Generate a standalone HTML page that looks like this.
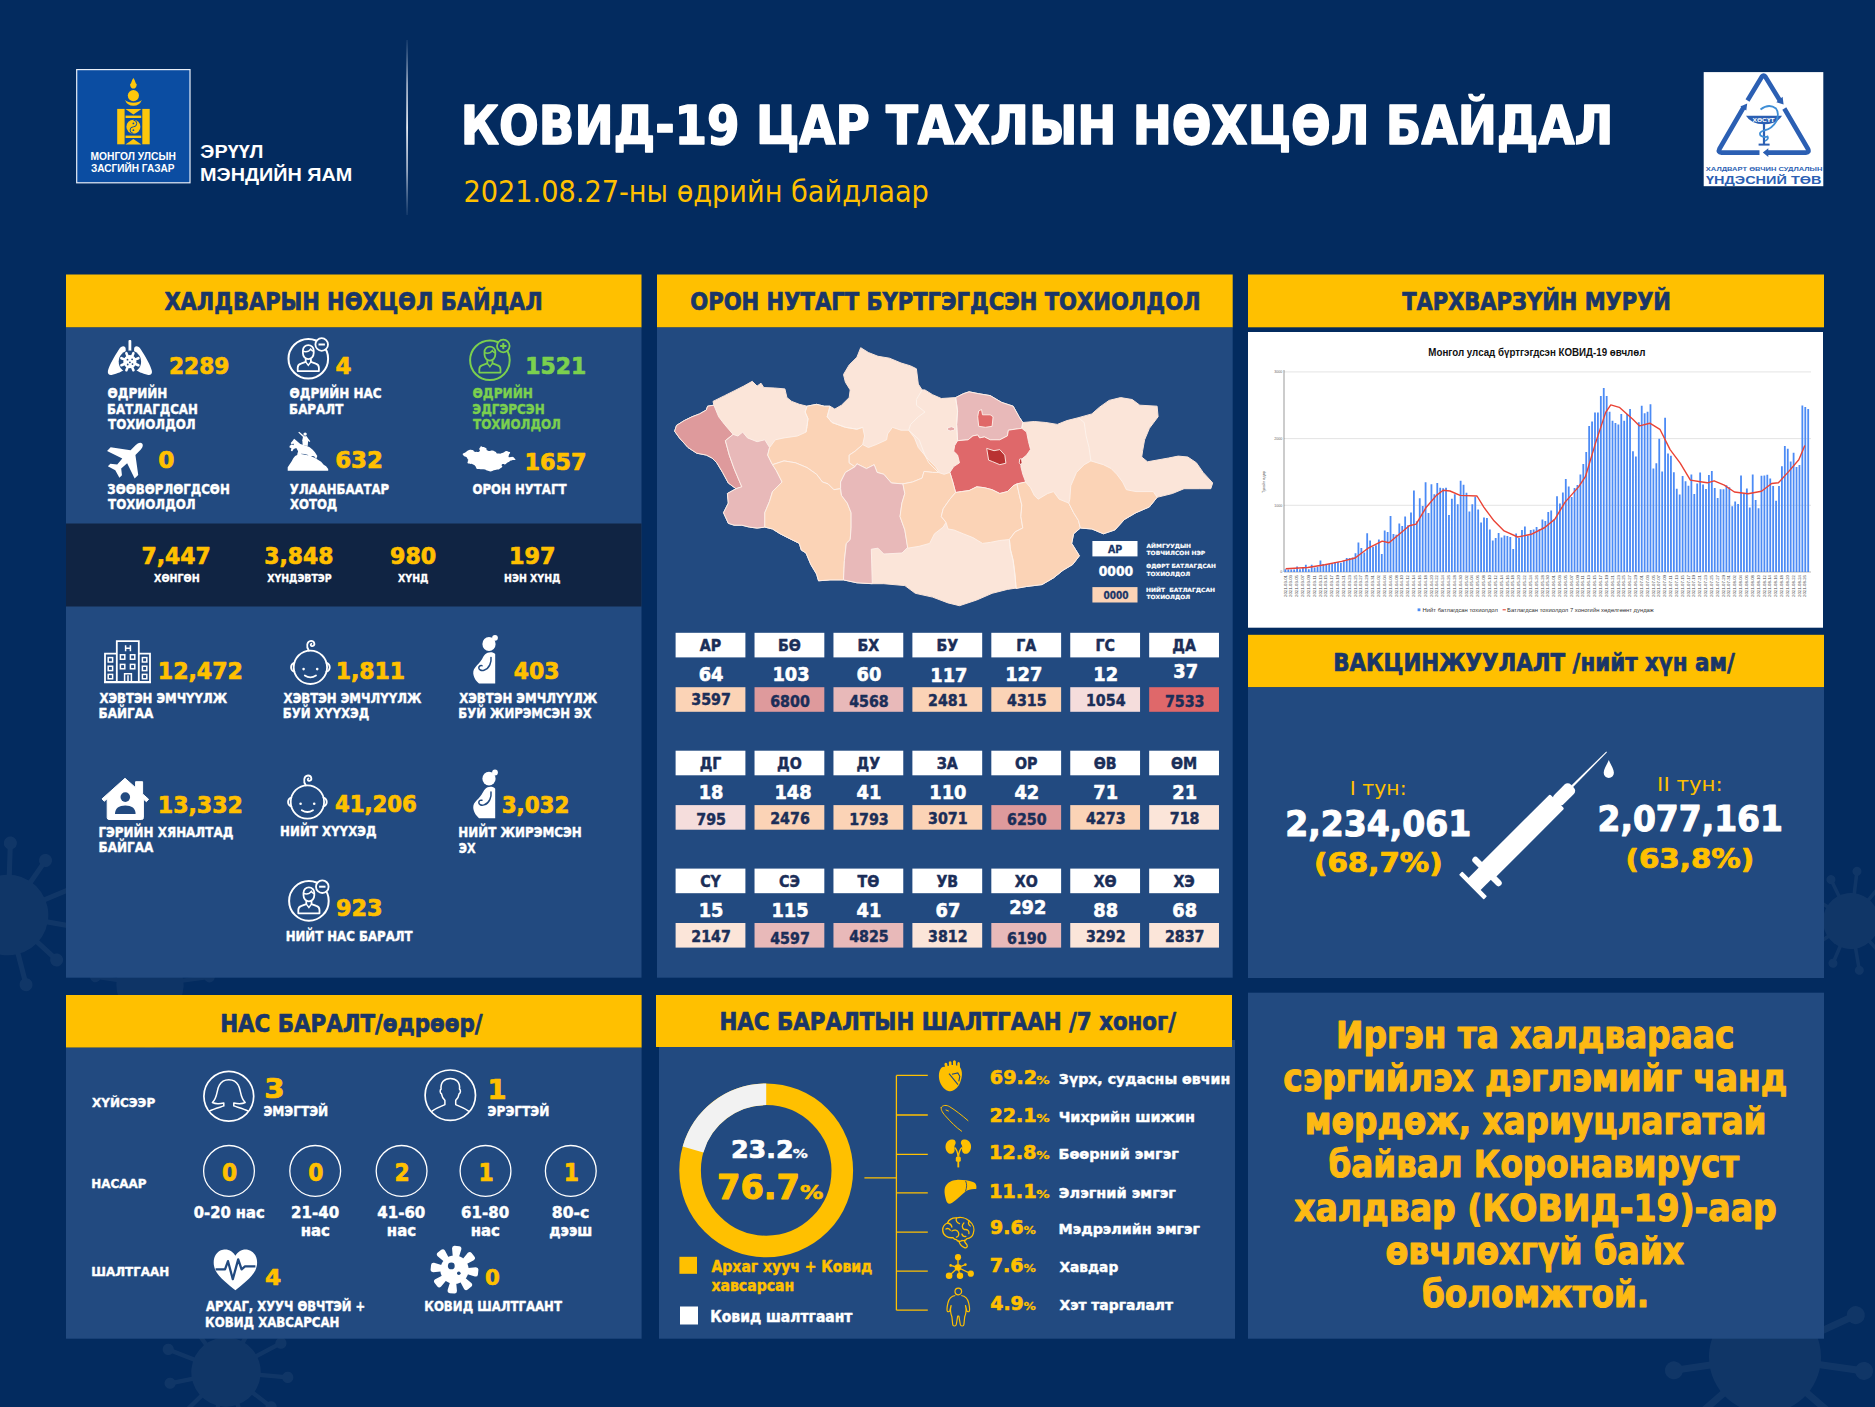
<!DOCTYPE html>
<html lang="mn"><head><meta charset="utf-8"><title>КОВИД-19 цар тахлын нөхцөл байдал</title>
<style>html,body{margin:0;padding:0;background:#032B5F;overflow:hidden}svg{display:block}text{white-space:pre}</style>
</head><body>
<svg width="1875" height="1407" viewBox="0 0 1875 1407">
<rect x="0" y="0" width="1875" height="1407" fill="#032B5F" />
<g>
<g transform="translate(8 915) rotate(10)" fill="#fff" stroke="#fff" opacity="0.05">
<circle cx="0" cy="0" r="40.3" stroke="none"/>
<line x1="0" y1="0" x2="72.0" y2="0.0" stroke-width="5.0"/>
<circle cx="72.0" cy="0.0" r="6.5" stroke="none"/>
<line x1="0" y1="0" x2="55.7" y2="35.8" stroke-width="5.0"/>
<circle cx="55.7" cy="35.8" r="6.5" stroke="none"/>
<line x1="0" y1="0" x2="29.9" y2="65.5" stroke-width="5.0"/>
<circle cx="29.9" cy="65.5" r="6.5" stroke="none"/>
<line x1="0" y1="0" x2="-9.4" y2="65.6" stroke-width="5.0"/>
<circle cx="-9.4" cy="65.6" r="6.5" stroke="none"/>
<line x1="0" y1="0" x2="-47.1" y2="54.4" stroke-width="5.0"/>
<circle cx="-47.1" cy="54.4" r="6.5" stroke="none"/>
<line x1="0" y1="0" x2="-63.6" y2="18.7" stroke-width="5.0"/>
<circle cx="-63.6" cy="18.7" r="6.5" stroke="none"/>
<line x1="0" y1="0" x2="-69.1" y2="-20.3" stroke-width="5.0"/>
<circle cx="-69.1" cy="-20.3" r="6.5" stroke="none"/>
<line x1="0" y1="0" x2="-43.4" y2="-50.1" stroke-width="5.0"/>
<circle cx="-43.4" cy="-50.1" r="6.5" stroke="none"/>
<line x1="0" y1="0" x2="-10.2" y2="-71.3" stroke-width="5.0"/>
<circle cx="-10.2" cy="-71.3" r="6.5" stroke="none"/>
<line x1="0" y1="0" x2="27.5" y2="-60.3" stroke-width="5.0"/>
<circle cx="27.5" cy="-60.3" r="6.5" stroke="none"/>
<line x1="0" y1="0" x2="60.6" y2="-38.9" stroke-width="5.0"/>
<circle cx="60.6" cy="-38.9" r="6.5" stroke="none"/>
</g>
<g transform="translate(150 985) rotate(25)" fill="#fff" stroke="#fff" opacity="0.045">
<circle cx="0" cy="0" r="33.6" stroke="none"/>
<line x1="0" y1="0" x2="60.0" y2="0.0" stroke-width="4.2"/>
<circle cx="60.0" cy="0.0" r="5.4" stroke="none"/>
<line x1="0" y1="0" x2="46.4" y2="29.8" stroke-width="4.2"/>
<circle cx="46.4" cy="29.8" r="5.4" stroke="none"/>
<line x1="0" y1="0" x2="24.9" y2="54.6" stroke-width="4.2"/>
<circle cx="24.9" cy="54.6" r="5.4" stroke="none"/>
<line x1="0" y1="0" x2="-7.9" y2="54.6" stroke-width="4.2"/>
<circle cx="-7.9" cy="54.6" r="5.4" stroke="none"/>
<line x1="0" y1="0" x2="-39.3" y2="45.3" stroke-width="4.2"/>
<circle cx="-39.3" cy="45.3" r="5.4" stroke="none"/>
<line x1="0" y1="0" x2="-53.0" y2="15.6" stroke-width="4.2"/>
<circle cx="-53.0" cy="15.6" r="5.4" stroke="none"/>
<line x1="0" y1="0" x2="-57.6" y2="-16.9" stroke-width="4.2"/>
<circle cx="-57.6" cy="-16.9" r="5.4" stroke="none"/>
<line x1="0" y1="0" x2="-36.1" y2="-41.7" stroke-width="4.2"/>
<circle cx="-36.1" cy="-41.7" r="5.4" stroke="none"/>
<line x1="0" y1="0" x2="-8.5" y2="-59.4" stroke-width="4.2"/>
<circle cx="-8.5" cy="-59.4" r="5.4" stroke="none"/>
<line x1="0" y1="0" x2="22.9" y2="-50.2" stroke-width="4.2"/>
<circle cx="22.9" cy="-50.2" r="5.4" stroke="none"/>
<line x1="0" y1="0" x2="50.5" y2="-32.4" stroke-width="4.2"/>
<circle cx="50.5" cy="-32.4" r="5.4" stroke="none"/>
</g>
<g transform="translate(226 1372) rotate(5)" fill="#fff" stroke="#fff" opacity="0.05">
<circle cx="0" cy="0" r="34.7" stroke="none"/>
<line x1="0" y1="0" x2="62.0" y2="0.0" stroke-width="4.3"/>
<circle cx="62.0" cy="0.0" r="5.6" stroke="none"/>
<line x1="0" y1="0" x2="48.0" y2="30.8" stroke-width="4.3"/>
<circle cx="48.0" cy="30.8" r="5.6" stroke="none"/>
<line x1="0" y1="0" x2="25.8" y2="56.4" stroke-width="4.3"/>
<circle cx="25.8" cy="56.4" r="5.6" stroke="none"/>
<line x1="0" y1="0" x2="-8.1" y2="56.5" stroke-width="4.3"/>
<circle cx="-8.1" cy="56.5" r="5.6" stroke="none"/>
<line x1="0" y1="0" x2="-40.6" y2="46.9" stroke-width="4.3"/>
<circle cx="-40.6" cy="46.9" r="5.6" stroke="none"/>
<line x1="0" y1="0" x2="-54.7" y2="16.1" stroke-width="4.3"/>
<circle cx="-54.7" cy="16.1" r="5.6" stroke="none"/>
<line x1="0" y1="0" x2="-59.5" y2="-17.5" stroke-width="4.3"/>
<circle cx="-59.5" cy="-17.5" r="5.6" stroke="none"/>
<line x1="0" y1="0" x2="-37.4" y2="-43.1" stroke-width="4.3"/>
<circle cx="-37.4" cy="-43.1" r="5.6" stroke="none"/>
<line x1="0" y1="0" x2="-8.8" y2="-61.4" stroke-width="4.3"/>
<circle cx="-8.8" cy="-61.4" r="5.6" stroke="none"/>
<line x1="0" y1="0" x2="23.7" y2="-51.9" stroke-width="4.3"/>
<circle cx="23.7" cy="-51.9" r="5.6" stroke="none"/>
<line x1="0" y1="0" x2="52.2" y2="-33.5" stroke-width="4.3"/>
<circle cx="52.2" cy="-33.5" r="5.6" stroke="none"/>
</g>
<g transform="translate(1851 921) rotate(15)" fill="#fff" stroke="#fff" opacity="0.05">
<circle cx="0" cy="0" r="28.0" stroke="none"/>
<line x1="0" y1="0" x2="50.0" y2="0.0" stroke-width="3.5"/>
<circle cx="50.0" cy="0.0" r="4.5" stroke="none"/>
<line x1="0" y1="0" x2="38.7" y2="24.9" stroke-width="3.5"/>
<circle cx="38.7" cy="24.9" r="4.5" stroke="none"/>
<line x1="0" y1="0" x2="20.8" y2="45.5" stroke-width="3.5"/>
<circle cx="20.8" cy="45.5" r="4.5" stroke="none"/>
<line x1="0" y1="0" x2="-6.5" y2="45.5" stroke-width="3.5"/>
<circle cx="-6.5" cy="45.5" r="4.5" stroke="none"/>
<line x1="0" y1="0" x2="-32.7" y2="37.8" stroke-width="3.5"/>
<circle cx="-32.7" cy="37.8" r="4.5" stroke="none"/>
<line x1="0" y1="0" x2="-44.1" y2="13.0" stroke-width="3.5"/>
<circle cx="-44.1" cy="13.0" r="4.5" stroke="none"/>
<line x1="0" y1="0" x2="-48.0" y2="-14.1" stroke-width="3.5"/>
<circle cx="-48.0" cy="-14.1" r="4.5" stroke="none"/>
<line x1="0" y1="0" x2="-30.1" y2="-34.8" stroke-width="3.5"/>
<circle cx="-30.1" cy="-34.8" r="4.5" stroke="none"/>
<line x1="0" y1="0" x2="-7.1" y2="-49.5" stroke-width="3.5"/>
<circle cx="-7.1" cy="-49.5" r="4.5" stroke="none"/>
<line x1="0" y1="0" x2="19.1" y2="-41.8" stroke-width="3.5"/>
<circle cx="19.1" cy="-41.8" r="4.5" stroke="none"/>
<line x1="0" y1="0" x2="42.1" y2="-27.0" stroke-width="3.5"/>
<circle cx="42.1" cy="-27.0" r="4.5" stroke="none"/>
</g>
<g transform="translate(1765 1357) rotate(8)" fill="#fff" stroke="#fff" opacity="0.05">
<circle cx="0" cy="0" r="56.0" stroke="none"/>
<line x1="0" y1="0" x2="100.0" y2="0.0" stroke-width="7.0"/>
<circle cx="100.0" cy="0.0" r="9.0" stroke="none"/>
<line x1="0" y1="0" x2="77.4" y2="49.7" stroke-width="7.0"/>
<circle cx="77.4" cy="49.7" r="9.0" stroke="none"/>
<line x1="0" y1="0" x2="41.5" y2="91.0" stroke-width="7.0"/>
<circle cx="41.5" cy="91.0" r="9.0" stroke="none"/>
<line x1="0" y1="0" x2="-13.1" y2="91.1" stroke-width="7.0"/>
<circle cx="-13.1" cy="91.1" r="9.0" stroke="none"/>
<line x1="0" y1="0" x2="-65.5" y2="75.6" stroke-width="7.0"/>
<circle cx="-65.5" cy="75.6" r="9.0" stroke="none"/>
<line x1="0" y1="0" x2="-88.3" y2="25.9" stroke-width="7.0"/>
<circle cx="-88.3" cy="25.9" r="9.0" stroke="none"/>
<line x1="0" y1="0" x2="-95.9" y2="-28.2" stroke-width="7.0"/>
<circle cx="-95.9" cy="-28.2" r="9.0" stroke="none"/>
<line x1="0" y1="0" x2="-60.2" y2="-69.5" stroke-width="7.0"/>
<circle cx="-60.2" cy="-69.5" r="9.0" stroke="none"/>
<line x1="0" y1="0" x2="-14.2" y2="-99.0" stroke-width="7.0"/>
<circle cx="-14.2" cy="-99.0" r="9.0" stroke="none"/>
<line x1="0" y1="0" x2="38.2" y2="-83.7" stroke-width="7.0"/>
<circle cx="38.2" cy="-83.7" r="9.0" stroke="none"/>
<line x1="0" y1="0" x2="84.1" y2="-54.1" stroke-width="7.0"/>
<circle cx="84.1" cy="-54.1" r="9.0" stroke="none"/>
</g>
</g>
<rect x="66" y="274.5" width="575.5" height="53" fill="#FFC000" />
<rect x="66" y="327.5" width="575.5" height="650.2" fill="#224A80" />
<rect x="657" y="274.5" width="575.7" height="53" fill="#FFC000" />
<rect x="657" y="327.5" width="575.7" height="650.2" fill="#224A80" />
<rect x="1248" y="274.5" width="576" height="52.8" fill="#FFC000" />
<rect x="1248" y="332" width="575" height="295.7" fill="#fff" />
<rect x="1248" y="634.8" width="576" height="52.5" fill="#FFC000" />
<rect x="1248" y="687.3" width="576" height="290.7" fill="#224A80" />
<rect x="66" y="995" width="575.6" height="52.7" fill="#FFC000" />
<rect x="66" y="1047.7" width="575.6" height="291" fill="#224A80" />
<rect x="659" y="1040" width="576" height="298.7" fill="#224A80" />
<rect x="656" y="995" width="576" height="52" fill="#FFC000" />
<rect x="1248" y="992.7" width="576" height="346" fill="#224A80" />
<rect x="76.7" y="69.6" width="113.3" height="113.2" fill="#0B4DA2" stroke="#e8eef8" stroke-width="1.2"/>
<g fill="#FDC70C">
<path d="M133.4 78 C135.6 81 135.0 83 136.8 84.5 C136.4 87.5 134.9 88.6 133.4 88.6 C131.9 88.6 130.4 87.5 130.0 84.5 C131.8 83 131.20000000000002 81 133.4 78Z"/>
<circle cx="133.4" cy="95.6" r="5.6"/>
<path d="M125.0 100 A9 9 0 0 0 141.8 100 A10.5 7 0 0 1 125.0 100Z"/>
<path d="M125.4 109 L141.4 109 L133.4 114.4Z"/>
<rect x="125.6" y="115.6" width="15.6" height="2.4" fill="#FDC70C" />
<circle cx="133.4" cy="126.8" r="7"/>
<rect x="125.6" y="135.6" width="15.6" height="2.4" fill="#FDC70C" />
<path d="M125.4 144.4 L141.4 144.4 L133.4 139Z"/>
<rect x="117.2" y="108.9" width="7.4" height="35.4" fill="#FDC70C" />
<rect x="142.3" y="108.9" width="7.4" height="35.4" fill="#FDC70C" />
</g>
<path d="M133.4 120.2 A3.3 3.3 0 0 1 133.4 126.8 A3.3 3.3 0 0 0 133.4 133.4" fill="none" stroke="#0B4DA2" stroke-width="1"/>
<circle cx="133.4" cy="123.4" r="0.9" fill="#0B4DA2"/><circle cx="133.4" cy="130.2" r="0.9" fill="#0B4DA2"/>
<text x="90.51" y="160" font-size="10.7" fill="#fff" font-family="Liberation Sans, sans-serif" font-weight="bold" textLength="85.38" lengthAdjust="spacingAndGlyphs" >МОНГОЛ УЛСЫН</text>
<text x="90.97" y="172" font-size="10.7" fill="#fff" font-family="Liberation Sans, sans-serif" font-weight="bold" textLength="83.57" lengthAdjust="spacingAndGlyphs" >ЗАСГИЙН ГАЗАР</text>
<text x="200.38" y="157.8" font-size="18.3" fill="#fff" font-family="Liberation Sans, sans-serif" font-weight="bold" textLength="63.14" lengthAdjust="spacingAndGlyphs" >ЭРҮҮЛ</text>
<text x="200.08" y="181.4" font-size="18.3" fill="#fff" font-family="Liberation Sans, sans-serif" font-weight="bold" textLength="152.25" lengthAdjust="spacingAndGlyphs" >МЭНДИЙН ЯАМ</text>
<defs><linearGradient id="dv" x1="0" y1="0" x2="0" y2="1"><stop offset="0" stop-color="#9fb0ca" stop-opacity="0.1"/><stop offset="0.25" stop-color="#c9d2e2" stop-opacity="0.75"/><stop offset="0.5" stop-color="#e4e9f2" stop-opacity="1"/><stop offset="0.75" stop-color="#c9d2e2" stop-opacity="0.75"/><stop offset="1" stop-color="#9fb0ca" stop-opacity="0.1"/></linearGradient></defs>
<rect x="406.2" y="40" width="1.8" height="175" fill="url(#dv)"/>
<text x="460.86" y="144" font-size="53.6" fill="#fff" font-family="DejaVu Sans Condensed, DejaVu Sans, sans-serif" font-weight="bold" textLength="1152.55" lengthAdjust="spacingAndGlyphs"  stroke="#fff" stroke-width="1.50" stroke-linejoin="round">КОВИД-19 ЦАР ТАХЛЫН НӨХЦӨЛ БАЙДАЛ</text>
<text x="463.41" y="201.6" font-size="30.8" fill="#FFC000" font-family="DejaVu Sans Condensed, DejaVu Sans, sans-serif" textLength="465.47" lengthAdjust="spacingAndGlyphs" >2021.08.27-ны өдрийн байдлаар</text>
<rect x="1703.7" y="72.1" width="119.6" height="114.1" fill="#fff" />
<g fill="none" stroke="#2B5FB3" stroke-width="4.6" stroke-linecap="butt" stroke-linejoin="round">
<path d="M1747.5 100.5 L1762 76.5 Q1763.6 74.4 1765.2 76.5 L1780.5 101.5"/>
<path d="M1784.3 108.5 L1808 149 Q1809.6 152.6 1806 152.6 L1767 152.6"/>
<path d="M1759.5 152.6 L1721.5 152.6 Q1717.6 152.6 1719.4 149 L1743.8 107"/>
</g>
<path d="M1776.3 102.2 L1783.6 104.4 L1782.6 96.8Z M1747.2 103.6 L1740.3 106.4 L1746.3 110.4Z M1762.8 152.6 L1768.3 148.2 L1768.3 157Z" fill="#2B5FB3"/>
<path d="M1746 115.7 L1782 115.7 Q1777 124.2 1764 124.2 Q1751 124.2 1746 115.7Z" fill="#2B5FB3"/>
<rect x="1762.9" y="124" width="2.2" height="20" fill="#2B5FB3"/><rect x="1758.6" y="143.6" width="11" height="2" fill="#2B5FB3"/>
<path d="M1760.5 109.5 Q1769 103 1776 108.5 Q1779.5 113 1776.5 121 Q1772 129 1764 130.5 Q1758.5 132 1760.5 135.5 Q1764 138 1767.5 136.5 Q1769 139 1765 141" fill="none" stroke="#3E8ED6" stroke-width="1.8"/>
<text x="1752.54" y="122" font-size="5.2" fill="#fff" font-family="Liberation Sans, sans-serif" font-weight="bold" textLength="22.13" lengthAdjust="spacingAndGlyphs" >ХӨСҮТ</text>
<text x="1705.83" y="171.2" font-size="6.1" fill="#2B5FB3" font-family="Liberation Sans, sans-serif" font-weight="bold" textLength="116.57" lengthAdjust="spacingAndGlyphs" >ХАЛДВАРТ ӨВЧИН СУДЛАЛЫН</text>
<text x="1706.00" y="183.9" font-size="11.8" fill="#2B5FB3" font-family="Liberation Sans, sans-serif" font-weight="bold" textLength="115.46" lengthAdjust="spacingAndGlyphs" >ҮНДЭСНИЙ ТӨВ</text>
<text x="164.45" y="310.4" font-size="24.6" fill="#1A3668" font-family="DejaVu Sans Condensed, DejaVu Sans, sans-serif" font-weight="bold" textLength="378.32" lengthAdjust="spacingAndGlyphs"  stroke="#1A3668" stroke-width="0.69" stroke-linejoin="round">ХАЛДВАРЫН НӨХЦӨЛ БАЙДАЛ</text>
<g transform="translate(129.9 340)" >
<rect x="-1.4" y="0" width="2.8" height="13" rx="1" fill="#fff"/>
<path d="M-4.2 9 C-4.2 5.5 -8.5 5.2 -11 9.5 C-15.5 16.5 -21 26 -22 31 C-22.6 34.6 -20 35.6 -17.5 34.8 C-13 33.6 -7 31.5 -4.8 29 C-3.6 27.6 -4.2 24 -4.2 20 Z" fill="#fff"/>
<path d="M4.2 9 C4.2 5.5 8.5 5.2 11 9.5 C15.5 16.5 21 26 22 31 C22.6 34.6 20 35.6 17.5 34.8 C13 33.6 7 31.5 4.8 29 C3.6 27.6 4.2 24 4.2 20 Z" fill="#fff"/>
<circle cx="0" cy="21.7" r="11.2" fill="#224A80"/>
<line x1="5.54" y1="24.00" x2="8.50" y2="25.22" stroke="#fff" stroke-width="2.6" stroke-linecap="round"/>
<line x1="2.30" y1="27.24" x2="3.52" y2="30.20" stroke="#fff" stroke-width="2.6" stroke-linecap="round"/>
<line x1="-2.30" y1="27.24" x2="-3.52" y2="30.20" stroke="#fff" stroke-width="2.6" stroke-linecap="round"/>
<line x1="-5.54" y1="24.00" x2="-8.50" y2="25.22" stroke="#fff" stroke-width="2.6" stroke-linecap="round"/>
<line x1="-5.54" y1="19.40" x2="-8.50" y2="18.18" stroke="#fff" stroke-width="2.6" stroke-linecap="round"/>
<line x1="-2.30" y1="16.16" x2="-3.52" y2="13.20" stroke="#fff" stroke-width="2.6" stroke-linecap="round"/>
<line x1="2.30" y1="16.16" x2="3.52" y2="13.20" stroke="#fff" stroke-width="2.6" stroke-linecap="round"/>
<line x1="5.54" y1="19.40" x2="8.50" y2="18.18" stroke="#fff" stroke-width="2.6" stroke-linecap="round"/>
<circle cx="0" cy="21.7" r="6.6" fill="#fff"/>
<circle cx="-2.4" cy="19.7" r="0.9" fill="#224A80"/>
<circle cx="2.2" cy="19.3" r="0.9" fill="#224A80"/>
<circle cx="0" cy="22.3" r="0.9" fill="#224A80"/>
<circle cx="-2.2" cy="24.5" r="0.9" fill="#224A80"/>
<circle cx="2.6" cy="24.099999999999998" r="0.9" fill="#224A80"/>
</g>
<text x="169.02" y="373.9" font-size="23.3" fill="#FFC000" font-family="DejaVu Sans Condensed, DejaVu Sans, sans-serif" font-weight="bold" textLength="60.33" lengthAdjust="spacingAndGlyphs"  stroke="#FFC000" stroke-width="0.65" stroke-linejoin="round">2289</text>
<text x="107.51" y="398.3" font-size="14.7" fill="#fff" font-family="DejaVu Sans Condensed, DejaVu Sans, sans-serif" font-weight="bold" textLength="59.88" lengthAdjust="spacingAndGlyphs"  stroke="#fff" stroke-width="0.41" stroke-linejoin="round">ӨДРИЙН</text>
<text x="107.02" y="413.5" font-size="14.7" fill="#fff" font-family="DejaVu Sans Condensed, DejaVu Sans, sans-serif" font-weight="bold" textLength="90.85" lengthAdjust="spacingAndGlyphs"  stroke="#fff" stroke-width="0.41" stroke-linejoin="round">БАТЛАГДСАН</text>
<text x="108.05" y="429.2" font-size="14.7" fill="#fff" font-family="DejaVu Sans Condensed, DejaVu Sans, sans-serif" font-weight="bold" textLength="87.63" lengthAdjust="spacingAndGlyphs"  stroke="#fff" stroke-width="0.41" stroke-linejoin="round">ТОХИОЛДОЛ</text>
<g transform="translate(308.3 358.7)" fill="none" stroke="#fff" stroke-width="2">
<circle cx="0" cy="0" r="19.8"/>
<path d="M-5.4 -5.6 L-5.4 -8.2 A5.4 5.4 0 0 1 5.4 -8.2 L5.4 -5.6 A5.4 6 0 0 1 -5.4 -5.6Z" stroke-width="1.8"/>
<path d="M-5.4 -7.4 Q0 -6 2.4 -9.6 Q3.6 -7.8 5.4 -7.4" stroke-width="1.5"/>
<path d="M-2.6 0 L-2.6 3.2 L-7.4 5 Q-10.6 6 -10.6 9 L-10.6 12.4 L10.6 12.4 L10.6 9 Q10.6 6 7.4 5 L2.6 3.2 L2.6 0" stroke-width="1.8" stroke-linejoin="round"/>
<path d="M-2.6 3.2 L0 6.6 L2.6 3.2" stroke-width="1.4"/>
<circle cx="13.4" cy="-14.2" r="6.3" fill="#224A80" stroke-width="1.8"/>
<line x1="10.2" y1="-14.2" x2="16.6" y2="-14.2" stroke-width="2"/>
</g>
<text x="335.60" y="373.9" font-size="23.3" fill="#FFC000" font-family="DejaVu Sans Condensed, DejaVu Sans, sans-serif" font-weight="bold" textLength="16.02" lengthAdjust="spacingAndGlyphs"  stroke="#FFC000" stroke-width="0.65" stroke-linejoin="round">4</text>
<text x="289.61" y="398.3" font-size="14.7" fill="#fff" font-family="DejaVu Sans Condensed, DejaVu Sans, sans-serif" font-weight="bold" textLength="92.04" lengthAdjust="spacingAndGlyphs"  stroke="#fff" stroke-width="0.41" stroke-linejoin="round">ӨДРИЙН НАС</text>
<text x="289.12" y="413.5" font-size="14.7" fill="#fff" font-family="DejaVu Sans Condensed, DejaVu Sans, sans-serif" font-weight="bold" textLength="54.14" lengthAdjust="spacingAndGlyphs"  stroke="#fff" stroke-width="0.41" stroke-linejoin="round">БАРАЛТ</text>
<g transform="translate(489.9 360.2)" fill="none" stroke="#7BD04E" stroke-width="2">
<circle cx="0" cy="0" r="19.8"/>
<path d="M-5.4 -5.6 L-5.4 -8.2 A5.4 5.4 0 0 1 5.4 -8.2 L5.4 -5.6 A5.4 6 0 0 1 -5.4 -5.6Z" stroke-width="1.8"/>
<path d="M-5.4 -7.4 Q0 -6 2.4 -9.6 Q3.6 -7.8 5.4 -7.4" stroke-width="1.5"/>
<path d="M-2.6 0 L-2.6 3.2 L-7.4 5 Q-10.6 6 -10.6 9 L-10.6 12.4 L10.6 12.4 L10.6 9 Q10.6 6 7.4 5 L2.6 3.2 L2.6 0" stroke-width="1.8" stroke-linejoin="round"/>
<path d="M-2.6 3.2 L0 6.6 L2.6 3.2" stroke-width="1.4"/>
<circle cx="13.4" cy="-14.2" r="6.3" fill="#224A80" stroke-width="1.8"/>
<line x1="10.2" y1="-14.2" x2="16.6" y2="-14.2" stroke-width="2"/>
<line x1="13.4" y1="-17.4" x2="13.4" y2="-11.0" stroke-width="2"/>
</g>
<text x="525.37" y="373.9" font-size="23.3" fill="#7BD04E" font-family="DejaVu Sans Condensed, DejaVu Sans, sans-serif" font-weight="bold" textLength="60.90" lengthAdjust="spacingAndGlyphs"  stroke="#7BD04E" stroke-width="0.65" stroke-linejoin="round">1521</text>
<text x="472.51" y="398.3" font-size="14.7" fill="#7BD04E" font-family="DejaVu Sans Condensed, DejaVu Sans, sans-serif" font-weight="bold" textLength="60.49" lengthAdjust="spacingAndGlyphs"  stroke="#7BD04E" stroke-width="0.41" stroke-linejoin="round">ӨДРИЙН</text>
<text x="472.34" y="413.5" font-size="14.7" fill="#7BD04E" font-family="DejaVu Sans Condensed, DejaVu Sans, sans-serif" font-weight="bold" textLength="72.34" lengthAdjust="spacingAndGlyphs"  stroke="#7BD04E" stroke-width="0.41" stroke-linejoin="round">ЭДГЭРСЭН</text>
<text x="473.05" y="429.2" font-size="14.7" fill="#7BD04E" font-family="DejaVu Sans Condensed, DejaVu Sans, sans-serif" font-weight="bold" textLength="87.93" lengthAdjust="spacingAndGlyphs"  stroke="#7BD04E" stroke-width="0.41" stroke-linejoin="round">ТОХИОЛДОЛ</text>
<g transform="translate(128.3 457.3) rotate(45) scale(0.78)" fill="#fff">
<path d="M0 -25 C3 -25 4.4 -21 4.4 -17 L4.4 -8.5 L25 7 L25 13.5 L4.4 6.5 L3.6 16.5 L10.5 22 L10.5 26.6 L0 23.6 L-10.5 26.6 L-10.5 22 L-3.6 16.5 L-4.4 6.5 L-25 13.5 L-25 7 L-4.4 -8.5 L-4.4 -17 C-4.4 -21 -3 -25 0 -25Z"/>
</g>
<text x="158.22" y="468.2" font-size="23.3" fill="#FFC000" font-family="DejaVu Sans Condensed, DejaVu Sans, sans-serif" font-weight="bold" textLength="16.15" lengthAdjust="spacingAndGlyphs"  stroke="#FFC000" stroke-width="0.65" stroke-linejoin="round">0</text>
<text x="107.33" y="493.6" font-size="14.7" fill="#fff" font-family="DejaVu Sans Condensed, DejaVu Sans, sans-serif" font-weight="bold" textLength="122.44" lengthAdjust="spacingAndGlyphs"  stroke="#fff" stroke-width="0.41" stroke-linejoin="round">ЗӨӨВӨРЛӨГДСӨН</text>
<text x="108.05" y="508.9" font-size="14.7" fill="#fff" font-family="DejaVu Sans Condensed, DejaVu Sans, sans-serif" font-weight="bold" textLength="87.63" lengthAdjust="spacingAndGlyphs"  stroke="#fff" stroke-width="0.41" stroke-linejoin="round">ТОХИОЛДОЛ</text>
<g transform="translate(287.7 431.3)" fill="#fff">
<path d="M0 39.4 L0 36 L2 33 L4 30 L5.6 27 L7.4 24.6 L12 22.4 L20 24 L27 26.4 L31 29 L33.4 30.4 L36 33.4 L38.4 35 L40.5 37.6 L40.5 39.4Z"/>
<path d="M9.4 23.4 L10.4 20 L8.6 16.8 L6 17.6 L4.6 20 L3.2 19.6 L3.6 16.6 L2 16.4 L1.8 14.6 L4.2 13 L5.6 14 L6.4 12.4 L3.6 12.8 L3 11.6 L5 9.4 L6.4 7.4 L8 8.6 L10 10.4 L12.6 12.6 L15 13.4 L18.6 14.4 L22 16 L25 18.4 L27.2 21 L29.6 24.6 L28.6 27.6 L26.4 25 L24 24.6 L23 27 L20.4 26.6 L20.4 23.6 L17 22.6 L13.6 22.4 L12 24Z"/>
<circle cx="17.4" cy="2.8" r="1.7"/>
<path d="M15.4 5 L19.2 5 L20.4 9.6 L20 14.6 L15 13.6 L14.6 9 Z"/>
<path d="M15.6 6 L10.6 1.2 L11.4 0.4 L16.8 5Z"/>
<path d="M19.4 6 L22.6 10 L21.6 10.8 L18.6 8Z"/>
</g>
<text x="335.21" y="468.2" font-size="23.3" fill="#FFC000" font-family="DejaVu Sans Condensed, DejaVu Sans, sans-serif" font-weight="bold" textLength="47.63" lengthAdjust="spacingAndGlyphs"  stroke="#FFC000" stroke-width="0.65" stroke-linejoin="round">632</text>
<text x="289.87" y="493.6" font-size="14.7" fill="#fff" font-family="DejaVu Sans Condensed, DejaVu Sans, sans-serif" font-weight="bold" textLength="99.29" lengthAdjust="spacingAndGlyphs"  stroke="#fff" stroke-width="0.41" stroke-linejoin="round">УЛААНБААТАР</text>
<text x="289.98" y="508.9" font-size="14.7" fill="#fff" font-family="DejaVu Sans Condensed, DejaVu Sans, sans-serif" font-weight="bold" textLength="47.31" lengthAdjust="spacingAndGlyphs"  stroke="#fff" stroke-width="0.41" stroke-linejoin="round">ХОТОД</text>
<path d="M480.9 446.1 L481.7 446.6 L482.6 446.9 L483.7 447.1 L484.9 447.6 L485.8 447.9 L486.4 448.2 L486.6 449.7 L486.9 450.3 L487.2 450.3 L488.0 450.7 L488.8 451.1 L490.2 451.0 L491.0 450.6 L491.5 450.4 L492.5 450.6 L493.6 450.8 L494.8 451.5 L495.9 451.9 L496.5 452.9 L496.8 453.5 L498.0 453.4 L499.1 453.5 L500.2 453.7 L501.2 453.3 L502.3 453.0 L503.6 452.6 L504.4 452.0 L505.3 451.3 L506.4 451.0 L507.6 451.2 L508.3 451.8 L510.0 451.9 L510.1 452.9 L509.3 454.0 L508.8 455.2 L508.6 456.2 L508.5 456.9 L509.1 457.3 L511.2 457.0 L512.1 456.8 L513.0 456.9 L513.9 457.4 L514.6 458.4 L515.5 459.4 L515.3 460.0 L514.2 460.0 L512.7 460.0 L511.5 460.5 L510.0 460.8 L509.3 461.8 L508.0 462.3 L506.8 463.0 L505.9 464.0 L504.7 464.4 L503.6 463.9 L502.5 463.9 L501.8 464.4 L501.6 465.4 L502.4 466.6 L501.7 467.4 L500.8 468.0 L499.8 468.8 L498.7 469.4 L497.2 469.6 L495.3 469.9 L493.8 470.3 L492.3 470.9 L490.6 471.5 L489.5 471.2 L488.0 470.7 L486.3 470.3 L485.2 469.5 L483.2 469.3 L482.0 469.3 L480.5 469.2 L479.2 469.0 L477.9 469.0 L476.7 469.0 L476.6 468.4 L476.0 467.4 L475.5 466.3 L475.1 466.0 L474.9 465.4 L473.7 464.8 L473.0 464.4 L472.2 463.9 L471.5 463.8 L470.7 463.9 L470.0 463.8 L469.2 463.6 L468.4 463.6 L467.9 463.4 L467.4 462.3 L467.9 461.4 L467.8 460.5 L468.6 460.0 L467.9 459.4 L467.3 458.4 L466.8 457.4 L466.3 457.0 L465.7 456.7 L464.8 456.5 L463.9 455.9 L463.1 455.0 L462.6 454.3 L462.8 453.7 L463.5 453.3 L464.3 452.9 L465.1 452.6 L465.7 452.2 L465.8 451.9 L466.5 451.8 L466.4 451.4 L467.5 450.8 L468.4 450.3 L469.4 449.9 L470.2 449.4 L470.7 449.9 L471.1 449.6 L471.4 450.0 L472.4 450.1 L473.4 450.2 L473.6 451.0 L474.1 451.4 L474.9 451.7 L475.6 451.9 L476.6 451.7 L477.3 451.9 L477.9 451.9 L478.4 452.1 L479.0 451.8 L479.8 451.0 L479.9 450.3 L479.4 449.5 L479.2 448.7 L479.8 447.8 L480.5 447.0Z" fill="#fff"/>
<text x="524.42" y="469.8" font-size="23.3" fill="#FFC000" font-family="DejaVu Sans Condensed, DejaVu Sans, sans-serif" font-weight="bold" textLength="62.12" lengthAdjust="spacingAndGlyphs"  stroke="#FFC000" stroke-width="0.65" stroke-linejoin="round">1657</text>
<text x="472.53" y="493.6" font-size="14.7" fill="#fff" font-family="DejaVu Sans Condensed, DejaVu Sans, sans-serif" font-weight="bold" textLength="93.93" lengthAdjust="spacingAndGlyphs"  stroke="#fff" stroke-width="0.41" stroke-linejoin="round">ОРОН НУТАГТ</text>
<rect x="66" y="523.5" width="575.5" height="83" fill="#102443" />
<text x="141.56" y="564.2" font-size="23.3" fill="#FFC000" font-family="DejaVu Sans Condensed, DejaVu Sans, sans-serif" font-weight="bold" textLength="69.24" lengthAdjust="spacingAndGlyphs"  stroke="#FFC000" stroke-width="0.65" stroke-linejoin="round">7,447</text>
<text x="154.08" y="582" font-size="11.2" fill="#fff" font-family="DejaVu Sans Condensed, DejaVu Sans, sans-serif" font-weight="bold" textLength="45.64" lengthAdjust="spacingAndGlyphs"  stroke="#fff" stroke-width="0.31" stroke-linejoin="round">ХӨНГӨН</text>
<text x="264.27" y="564.2" font-size="23.3" fill="#FFC000" font-family="DejaVu Sans Condensed, DejaVu Sans, sans-serif" font-weight="bold" textLength="69.15" lengthAdjust="spacingAndGlyphs"  stroke="#FFC000" stroke-width="0.65" stroke-linejoin="round">3,848</text>
<text x="267.28" y="582" font-size="11.2" fill="#fff" font-family="DejaVu Sans Condensed, DejaVu Sans, sans-serif" font-weight="bold" textLength="64.34" lengthAdjust="spacingAndGlyphs"  stroke="#fff" stroke-width="0.31" stroke-linejoin="round">ХҮНДЭВТЭР</text>
<text x="390.09" y="564.2" font-size="23.3" fill="#FFC000" font-family="DejaVu Sans Condensed, DejaVu Sans, sans-serif" font-weight="bold" textLength="46.13" lengthAdjust="spacingAndGlyphs"  stroke="#FFC000" stroke-width="0.65" stroke-linejoin="round">980</text>
<text x="398.08" y="582" font-size="11.2" fill="#fff" font-family="DejaVu Sans Condensed, DejaVu Sans, sans-serif" font-weight="bold" textLength="30.33" lengthAdjust="spacingAndGlyphs"  stroke="#fff" stroke-width="0.31" stroke-linejoin="round">ХҮНД</text>
<text x="509.12" y="564.2" font-size="23.3" fill="#FFC000" font-family="DejaVu Sans Condensed, DejaVu Sans, sans-serif" font-weight="bold" textLength="46.52" lengthAdjust="spacingAndGlyphs"  stroke="#FFC000" stroke-width="0.65" stroke-linejoin="round">197</text>
<text x="504.09" y="582" font-size="11.2" fill="#fff" font-family="DejaVu Sans Condensed, DejaVu Sans, sans-serif" font-weight="bold" textLength="56.42" lengthAdjust="spacingAndGlyphs"  stroke="#fff" stroke-width="0.31" stroke-linejoin="round">НЭН ХҮНД</text>
<g transform="translate(104 640.2)" fill="none" stroke="#fff" stroke-width="1.8" stroke-linejoin="miter">
<path d="M1 42 L1 13.4 L12.8 13.4 M34.8 13.4 L46 13.4 L46 42"/>
<path d="M12.8 42 L12.8 1 L34.8 1 L34.8 42"/>
<path d="M0 42 L47 42" stroke-width="2.2"/>
<path d="M20.6 42 L20.6 33.6 L27.4 33.6 L27.4 42 M24 35 L24 42" stroke-width="1.5"/>
<path d="M21.6 5 L21.6 11 M26.4 5 L26.4 11 M21.6 8 L26.4 8" stroke-width="1.5"/>
<rect x="4.2" y="17.4" width="4.4" height="4.4" stroke-width="1.5"/>
<rect x="38.4" y="17.4" width="4.4" height="4.4" stroke-width="1.5"/>
<rect x="4.2" y="26" width="4.4" height="4.4" stroke-width="1.5"/>
<rect x="38.4" y="26" width="4.4" height="4.4" stroke-width="1.5"/>
<rect x="4.2" y="34.2" width="4.4" height="4.4" stroke-width="1.5"/>
<rect x="38.4" y="34.2" width="4.4" height="4.4" stroke-width="1.5"/>
<rect x="16.4" y="14.6" width="4.4" height="4.4" stroke-width="1.5"/>
<rect x="16.4" y="24.2" width="4.4" height="4.4" stroke-width="1.5"/>
<rect x="26.4" y="14.6" width="4.4" height="4.4" stroke-width="1.5"/>
<rect x="26.4" y="24.2" width="4.4" height="4.4" stroke-width="1.5"/>
</g>
<text x="157.85" y="678.7" font-size="23.3" fill="#FFC000" font-family="DejaVu Sans Condensed, DejaVu Sans, sans-serif" font-weight="bold" textLength="85.02" lengthAdjust="spacingAndGlyphs"  stroke="#FFC000" stroke-width="0.65" stroke-linejoin="round">12,472</text>
<text x="99.38" y="702.5" font-size="14.7" fill="#fff" font-family="DejaVu Sans Condensed, DejaVu Sans, sans-serif" font-weight="bold" textLength="127.78" lengthAdjust="spacingAndGlyphs"  stroke="#fff" stroke-width="0.41" stroke-linejoin="round">ХЭВТЭН ЭМЧҮҮЛЖ</text>
<text x="98.50" y="717.8" font-size="14.7" fill="#fff" font-family="DejaVu Sans Condensed, DejaVu Sans, sans-serif" font-weight="bold" textLength="54.74" lengthAdjust="spacingAndGlyphs"  stroke="#fff" stroke-width="0.41" stroke-linejoin="round">БАЙГАА</text>
<g transform="translate(310.4 667.3)" fill="none" stroke="#fff" stroke-width="1.8" stroke-linecap="round">
<circle cx="0" cy="0" r="16.7"/>
<path d="M-16.099999999999998 -4.4 A4.6 4.6 0 0 0 -16.099999999999998 4.4 M16.099999999999998 -4.4 A4.6 4.6 0 0 1 16.099999999999998 4.4"/>
<path d="M-1.6 -16.7 C-4.4 -20.7 -3.6 -26.1 0.6 -26.5 C4 -26.7 5.2 -22.299999999999997 2.4 -21.299999999999997 C0.4 -20.7 -0.4 -22.7 1 -23.5"/>
<circle cx="-6.8" cy="1.8" r="1.3" fill="#fff" stroke="none"/><circle cx="6.8" cy="1.8" r="1.3" fill="#fff" stroke="none"/>
<path d="M-5.6 8.2 Q0 11.8 5.6 8.2"/>
</g>
<text x="335.76" y="678.7" font-size="23.3" fill="#FFC000" font-family="DejaVu Sans Condensed, DejaVu Sans, sans-serif" font-weight="bold" textLength="69.31" lengthAdjust="spacingAndGlyphs"  stroke="#FFC000" stroke-width="0.65" stroke-linejoin="round">1,811</text>
<text x="283.58" y="702.5" font-size="14.7" fill="#fff" font-family="DejaVu Sans Condensed, DejaVu Sans, sans-serif" font-weight="bold" textLength="137.88" lengthAdjust="spacingAndGlyphs"  stroke="#fff" stroke-width="0.41" stroke-linejoin="round">ХЭВТЭН ЭМЧЛҮҮЛЖ</text>
<text x="282.72" y="717.8" font-size="14.7" fill="#fff" font-family="DejaVu Sans Condensed, DejaVu Sans, sans-serif" font-weight="bold" textLength="86.58" lengthAdjust="spacingAndGlyphs"  stroke="#fff" stroke-width="0.41" stroke-linejoin="round">БУЙ ХҮҮХЭД</text>
<g transform="translate(472.6 635)" fill="#fff">
<ellipse cx="16.4" cy="9" rx="6.6" ry="6.9"/>
<circle cx="22.4" cy="2.8" r="2.9"/>
<path d="M12.6 19.2 C15 16.6 20.5 16.4 22.6 19 L22.6 48.6 L6.4 48.6 C1.2 44 -1.4 37 2.6 32.4 C5 29.6 7.4 27.6 9.2 24.6 C10.2 22.8 11 20.8 12.6 19.2Z"/>
<path d="M18.4 22.4 C19 27 17 33.6 11.4 35.2 C8.6 36 6 34.8 6.2 32.6 C6.4 30.6 8.4 30.2 9.4 30.6" fill="none" stroke="#224A80" stroke-width="1.5" stroke-linecap="round"/>
</g>
<text x="513.85" y="678.7" font-size="23.3" fill="#FFC000" font-family="DejaVu Sans Condensed, DejaVu Sans, sans-serif" font-weight="bold" textLength="45.65" lengthAdjust="spacingAndGlyphs"  stroke="#FFC000" stroke-width="0.65" stroke-linejoin="round">403</text>
<text x="459.18" y="702.5" font-size="14.7" fill="#fff" font-family="DejaVu Sans Condensed, DejaVu Sans, sans-serif" font-weight="bold" textLength="137.88" lengthAdjust="spacingAndGlyphs"  stroke="#fff" stroke-width="0.41" stroke-linejoin="round">ХЭВТЭН ЭМЧЛҮҮЛЖ</text>
<text x="458.33" y="717.8" font-size="14.7" fill="#fff" font-family="DejaVu Sans Condensed, DejaVu Sans, sans-serif" font-weight="bold" textLength="133.29" lengthAdjust="spacingAndGlyphs"  stroke="#fff" stroke-width="0.41" stroke-linejoin="round">БУЙ ЖИРЭМСЭН ЭХ</text>
<g transform="translate(102 778.3)" fill="#fff">
<path d="M23 0 L33.6 9.4 L33.6 3.4 L40.6 3.4 L40.6 15.6 L46.6 21 L44.4 23.4 L41.4 20.8 L41.4 39.4 Q41.4 41.2 39.6 41.2 L7 41.2 Q5.2 41.2 5.2 39.4 L5.2 20.4 L2.2 23 L0 20.6Z" stroke="#fff" stroke-width="1" stroke-linejoin="round"/>
<circle cx="23.3" cy="18.8" r="4.8" fill="#224A80"/>
<path d="M13 35.6 C13 30 17 27.2 23.3 27.2 C29.6 27.2 33.6 30 33.6 35.6Z" fill="#224A80"/>
</g>
<text x="157.85" y="813.1" font-size="23.3" fill="#FFC000" font-family="DejaVu Sans Condensed, DejaVu Sans, sans-serif" font-weight="bold" textLength="85.02" lengthAdjust="spacingAndGlyphs"  stroke="#FFC000" stroke-width="0.65" stroke-linejoin="round">13,332</text>
<text x="98.51" y="836.8" font-size="14.7" fill="#fff" font-family="DejaVu Sans Condensed, DejaVu Sans, sans-serif" font-weight="bold" textLength="134.80" lengthAdjust="spacingAndGlyphs"  stroke="#fff" stroke-width="0.41" stroke-linejoin="round">ГЭРИЙН ХЯНАЛТАД</text>
<text x="98.50" y="852.1" font-size="14.7" fill="#fff" font-family="DejaVu Sans Condensed, DejaVu Sans, sans-serif" font-weight="bold" textLength="54.74" lengthAdjust="spacingAndGlyphs"  stroke="#fff" stroke-width="0.41" stroke-linejoin="round">БАЙГАА</text>
<g transform="translate(307.4 802)" fill="none" stroke="#fff" stroke-width="1.8" stroke-linecap="round">
<circle cx="0" cy="0" r="16.7"/>
<path d="M-16.099999999999998 -4.4 A4.6 4.6 0 0 0 -16.099999999999998 4.4 M16.099999999999998 -4.4 A4.6 4.6 0 0 1 16.099999999999998 4.4"/>
<path d="M-1.6 -16.7 C-4.4 -20.7 -3.6 -26.1 0.6 -26.5 C4 -26.7 5.2 -22.299999999999997 2.4 -21.299999999999997 C0.4 -20.7 -0.4 -22.7 1 -23.5"/>
<circle cx="-6.8" cy="1.8" r="1.3" fill="#fff" stroke="none"/><circle cx="6.8" cy="1.8" r="1.3" fill="#fff" stroke="none"/>
<path d="M-5.6 8.2 Q0 11.8 5.6 8.2"/>
</g>
<text x="334.98" y="811.5" font-size="23.3" fill="#FFC000" font-family="DejaVu Sans Condensed, DejaVu Sans, sans-serif" font-weight="bold" textLength="81.82" lengthAdjust="spacingAndGlyphs"  stroke="#FFC000" stroke-width="0.65" stroke-linejoin="round">41,206</text>
<text x="280.12" y="835.8" font-size="14.7" fill="#fff" font-family="DejaVu Sans Condensed, DejaVu Sans, sans-serif" font-weight="bold" textLength="96.38" lengthAdjust="spacingAndGlyphs"  stroke="#fff" stroke-width="0.41" stroke-linejoin="round">НИЙТ ХҮҮХЭД</text>
<g transform="translate(472.6 769.7)" fill="#fff">
<ellipse cx="16.4" cy="9" rx="6.6" ry="6.9"/>
<circle cx="22.4" cy="2.8" r="2.9"/>
<path d="M12.6 19.2 C15 16.6 20.5 16.4 22.6 19 L22.6 48.6 L6.4 48.6 C1.2 44 -1.4 37 2.6 32.4 C5 29.6 7.4 27.6 9.2 24.6 C10.2 22.8 11 20.8 12.6 19.2Z"/>
<path d="M18.4 22.4 C19 27 17 33.6 11.4 35.2 C8.6 36 6 34.8 6.2 32.6 C6.4 30.6 8.4 30.2 9.4 30.6" fill="none" stroke="#224A80" stroke-width="1.5" stroke-linecap="round"/>
</g>
<text x="501.70" y="813.1" font-size="23.3" fill="#FFC000" font-family="DejaVu Sans Condensed, DejaVu Sans, sans-serif" font-weight="bold" textLength="67.72" lengthAdjust="spacingAndGlyphs"  stroke="#FFC000" stroke-width="0.65" stroke-linejoin="round">3,032</text>
<text x="458.31" y="836.8" font-size="14.7" fill="#fff" font-family="DejaVu Sans Condensed, DejaVu Sans, sans-serif" font-weight="bold" textLength="123.47" lengthAdjust="spacingAndGlyphs"  stroke="#fff" stroke-width="0.41" stroke-linejoin="round">НИЙТ ЖИРЭМСЭН</text>
<text x="458.70" y="853.1" font-size="14.7" fill="#fff" font-family="DejaVu Sans Condensed, DejaVu Sans, sans-serif" font-weight="bold" textLength="16.82" lengthAdjust="spacingAndGlyphs"  stroke="#fff" stroke-width="0.41" stroke-linejoin="round">ЭХ</text>
<g transform="translate(308.9 900.9)" fill="none" stroke="#fff" stroke-width="2">
<circle cx="0" cy="0" r="19.8"/>
<path d="M-5.4 -5.6 L-5.4 -8.2 A5.4 5.4 0 0 1 5.4 -8.2 L5.4 -5.6 A5.4 6 0 0 1 -5.4 -5.6Z" stroke-width="1.8"/>
<path d="M-5.4 -7.4 Q0 -6 2.4 -9.6 Q3.6 -7.8 5.4 -7.4" stroke-width="1.5"/>
<path d="M-2.6 0 L-2.6 3.2 L-7.4 5 Q-10.6 6 -10.6 9 L-10.6 12.4 L10.6 12.4 L10.6 9 Q10.6 6 7.4 5 L2.6 3.2 L2.6 0" stroke-width="1.8" stroke-linejoin="round"/>
<path d="M-2.6 3.2 L0 6.6 L2.6 3.2" stroke-width="1.4"/>
<circle cx="13.4" cy="-14.2" r="6.3" fill="#224A80" stroke-width="1.8"/>
<line x1="10.2" y1="-14.2" x2="16.6" y2="-14.2" stroke-width="2"/>
</g>
<text x="336.08" y="916.2" font-size="23.3" fill="#FFC000" font-family="DejaVu Sans Condensed, DejaVu Sans, sans-serif" font-weight="bold" textLength="46.57" lengthAdjust="spacingAndGlyphs"  stroke="#FFC000" stroke-width="0.65" stroke-linejoin="round">923</text>
<text x="285.63" y="940.9" font-size="14.7" fill="#fff" font-family="DejaVu Sans Condensed, DejaVu Sans, sans-serif" font-weight="bold" textLength="126.92" lengthAdjust="spacingAndGlyphs"  stroke="#fff" stroke-width="0.41" stroke-linejoin="round">НИЙТ НАС БАРАЛТ</text>
<text x="690.30" y="310.4" font-size="24.6" fill="#1A3668" font-family="DejaVu Sans Condensed, DejaVu Sans, sans-serif" font-weight="bold" textLength="510.28" lengthAdjust="spacingAndGlyphs"  stroke="#1A3668" stroke-width="0.69" stroke-linejoin="round">ОРОН НУТАГТ БҮРТГЭГДСЭН ТОХИОЛДОЛ</text>
<path d="M860.7 347.7 L868.4 352.5 L878.0 356.3 L889.5 358.2 L901.0 363.0 L910.6 365.9 L916.4 368.8 L918.3 384.1 L922.1 389.9 L924.9 389.9 L932.6 394.7 L941.3 398.5 L955.6 397.6 L963.3 393.7 L969.1 391.8 L978.7 393.7 L990.2 395.6 L1001.7 402.4 L1013.2 406.2 L1019.0 416.7 L1022.8 422.5 L1034.3 421.5 L1045.8 422.5 L1057.3 424.4 L1066.9 420.6 L1078.4 417.7 L1091.9 413.9 L1099.5 407.2 L1109.1 400.4 L1120.6 397.6 L1132.2 399.5 L1139.8 405.2 L1157.1 406.2 L1158.1 416.7 L1149.4 428.3 L1144.6 439.8 L1142.7 450.3 L1141.7 457.0 L1147.5 461.8 L1168.6 458.0 L1178.2 456.1 L1187.8 457.0 L1196.4 462.8 L1203.1 472.4 L1212.7 482.9 L1210.8 488.7 L1199.3 488.7 L1184.0 488.7 L1172.4 493.5 L1157.1 497.3 L1149.4 506.9 L1136.0 512.7 L1124.5 519.4 L1114.9 529.9 L1103.4 533.8 L1091.9 529.0 L1080.4 528.0 L1073.6 533.8 L1071.7 543.4 L1079.4 555.8 L1072.7 564.5 L1063.1 570.2 L1053.5 577.9 L1042.0 584.6 L1026.6 586.5 L1007.4 589.4 L992.1 593.3 L976.7 600.0 L959.5 605.7 L948.0 602.9 L932.6 597.1 L915.3 593.3 L904.9 585.6 L883.8 583.7 L872.3 583.7 L856.9 582.8 L843.5 579.9 L830.0 579.9 L818.5 580.8 L816.6 574.1 L810.8 564.5 L806.0 553.0 L801.3 550.1 L799.3 543.4 L787.8 537.7 L780.1 533.8 L772.5 529.0 L764.8 527.1 L757.1 528.1 L749.4 527.1 L741.8 525.2 L734.1 525.2 L728.3 523.3 L723.5 512.7 L728.3 503.1 L727.4 493.5 L736.0 488.7 L728.3 483.0 L722.6 472.4 L716.8 462.8 L712.0 458.0 L706.3 455.1 L696.7 453.2 L688.0 447.5 L679.4 437.9 L674.6 431.2 L676.5 425.4 L684.2 420.6 L691.9 416.8 L699.5 413.9 L706.3 410.0 L707.6 406.2 L713.9 405.2 L713.0 401.4 L724.5 395.7 L734.1 390.9 L743.7 386.1 L752.3 381.3 L757.1 386.1 L761.0 383.2 L763.8 387.6 L774.4 388.0 L784.9 388.9 L786.9 397.6 L791.7 401.4 L799.3 404.3 L807.0 406.2 L816.6 404.3 L824.3 406.2 L830.0 406.2 L834.8 409.1 L841.5 405.2 L849.2 397.6 L850.2 389.9 L845.4 382.2 L843.5 374.5 L849.2 364.9 L856.9 357.3Z" fill="#FBE5D9" stroke="#FBE5D9" stroke-width="1" stroke-linejoin="round"/>
<path d="M707.6 406.2 L713.9 405.2 L718.7 416.8 L724.5 424.4 L733.1 434.4 L725.4 440.7 L729.3 455.1 L734.1 468.6 L741.8 486.8 L736.0 488.7 L728.3 483.0 L722.6 472.4 L716.8 462.8 L712.0 458.0 L706.3 455.1 L696.7 453.2 L688.0 447.5 L679.4 437.9 L674.6 431.2 L676.5 425.4 L684.2 420.6 L691.9 416.8 L699.5 413.9 L706.3 410.0Z" fill="#DE9A9C" stroke="#FDF1EA" stroke-width="0.9" stroke-linejoin="round"/>
<path d="M742.7 432.1 L747.5 437.9 L757.1 441.7 L764.8 439.8 L769.6 447.5 L767.7 455.1 L771.5 462.8 L776.3 470.5 L782.1 482.0 L772.5 491.6 L769.6 501.2 L764.8 512.7 L764.8 527.1 L757.1 528.1 L749.4 527.1 L741.8 525.2 L734.1 525.2 L728.3 523.3 L723.5 512.7 L728.3 503.1 L727.4 493.5 L736.0 488.7 L741.8 486.8 L734.1 468.6 L729.3 455.1 L725.4 440.7 L733.1 434.4 L737.9 436.0Z" fill="#E8B9B9" stroke="#FDF1EA" stroke-width="0.9" stroke-linejoin="round"/>
<path d="M807.0 406.2 L816.6 404.3 L824.3 406.2 L830.0 406.2 L827.2 416.8 L832.0 422.5 L845.4 427.3 L856.9 429.2 L862.7 427.3 L864.6 436.0 L862.7 444.6 L855.0 451.3 L849.2 455.1 L849.2 462.8 L855.0 466.7 L845.4 472.4 L840.6 482.0 L840.6 488.7 L833.9 489.7 L828.1 483.9 L822.4 482.0 L816.6 474.3 L807.0 467.6 L795.5 462.8 L784.0 460.9 L772.5 464.7 L771.5 462.8 L767.7 455.1 L769.6 447.5 L775.3 439.8 L784.0 437.9 L797.4 436.0 L806.0 432.1 L807.0 426.4 L808.0 418.7 L805.1 412.0Z" fill="#FBD3B6" stroke="#FDF1EA" stroke-width="0.9" stroke-linejoin="round"/>
<path d="M772.5 464.7 L784.0 460.9 L795.5 462.8 L807.0 467.6 L816.6 474.3 L822.4 482.0 L828.1 483.9 L833.9 489.7 L840.6 488.7 L841.5 495.4 L847.3 503.1 L851.1 512.7 L851.1 528.1 L850.2 539.6 L846.3 543.4 L844.4 560.7 L843.5 579.9 L830.0 579.9 L818.5 580.8 L816.6 574.1 L810.8 564.5 L806.0 553.0 L801.3 550.1 L799.3 543.4 L787.8 537.7 L780.1 533.8 L772.5 529.0 L764.8 527.1 L764.8 512.7 L769.6 501.2 L772.5 491.6 L782.1 482.0 L776.3 470.5Z" fill="#FBD3B6" stroke="#FDF1EA" stroke-width="0.9" stroke-linejoin="round"/>
<path d="M892.4 427.3 L901.0 430.2 L908.7 430.2 L914.5 437.9 L918.3 447.5 L927.9 459.0 L935.6 466.7 L939.4 472.4 L932.7 472.4 L924.1 471.5 L922.1 478.2 L912.6 482.0 L903.0 483.9 L891.4 483.0 L883.8 474.3 L877.1 472.4 L874.2 464.7 L866.5 468.6 L856.9 463.8 L855.0 466.7 L849.2 462.8 L849.2 455.1 L855.0 451.3 L862.7 444.6 L868.4 447.5 L876.1 444.6 L886.6 439.8 L887.6 434.0Z" fill="#FBD3B6" stroke="#FDF1EA" stroke-width="0.9" stroke-linejoin="round"/>
<path d="M855.0 466.7 L856.9 463.8 L866.5 468.6 L874.2 464.7 L877.1 472.4 L883.8 474.3 L891.4 483.0 L903.0 483.9 L904.9 493.5 L902.0 503.1 L900.1 516.5 L904.9 530.0 L907.8 547.3 L902.0 553.0 L883.8 554.0 L878.0 548.2 L871.3 549.2 L872.3 583.7 L856.9 582.8 L843.5 579.9 L844.4 560.7 L846.3 543.4 L850.2 539.6 L851.1 528.1 L851.1 512.7 L847.3 503.1 L841.5 495.4 L840.6 488.7 L840.6 482.0 L845.4 472.4Z" fill="#E8B9B9" stroke="#FDF1EA" stroke-width="0.9" stroke-linejoin="round"/>
<path d="M955.6 397.6 L963.3 393.7 L969.1 391.8 L978.7 393.7 L990.2 395.6 L1001.7 402.4 L1013.2 406.2 L1019.0 416.7 L1022.8 422.5 L1021.8 428.3 L1015.1 429.2 L1008.4 430.2 L1007.4 435.9 L999.8 439.8 L990.2 439.8 L984.4 436.9 L979.6 437.9 L977.7 435.0 L972.9 435.9 L968.1 439.8 L957.6 440.7 L956.6 424.4 L957.6 411.0Z" fill="#E8B9B9" stroke="#FDF1EA" stroke-width="0.9" stroke-linejoin="round"/>
<path d="M978.7 411.0 L981.5 409.5 L982.5 414.8 L990.2 414.8 L993.1 416.7 L992.1 426.3 L985.4 427.3 L978.7 426.3 L977.7 416.7Z" fill="#E06868" stroke="#FDF1EA" stroke-width="0.9" stroke-linejoin="round"/>
<path d="M947.6 427.9 L951.4 426.7 L954.7 427.9 L954.5 430.2 L950.3 430.9 L947.6 430.2Z" fill="#E6A9A9" stroke="#FDF1EA" stroke-width="0.9" stroke-linejoin="round"/>
<path d="M957.6 440.7 L968.1 439.8 L972.9 435.9 L977.7 435.0 L979.6 437.9 L984.4 436.9 L990.2 439.8 L999.8 439.8 L1007.4 435.9 L1008.4 430.2 L1015.1 429.2 L1021.8 428.3 L1026.6 432.1 L1028.5 441.7 L1030.5 449.4 L1026.6 455.1 L1021.8 459.0 L1020.9 466.6 L1022.8 474.3 L1025.7 482.0 L1017.0 483.9 L1013.2 485.8 L1007.4 491.6 L999.8 493.5 L992.1 489.7 L984.4 487.7 L976.7 486.8 L969.1 490.6 L961.4 491.6 L955.6 492.5 L952.8 482.0 L949.9 472.4 L953.7 466.6 L959.5 462.8 L957.6 455.1 L953.7 451.3 L954.7 445.5Z" fill="#DF686A" stroke="#FDF1EA" stroke-width="0.9" stroke-linejoin="round"/>
<path d="M986.7 448.4 L994.0 450.7 L999.8 449.6 L1004.8 455.1 L1005.9 463.2 L999.8 464.7 L992.5 461.6 L988.6 460.1Z" fill="#B93232" stroke="#FDF1EA" stroke-width="0.9" stroke-linejoin="round"/>
<path d="M1019.7 459.0 L1021.5 458.6 L1022.0 462.8 L1020.9 465.1 L1019.3 462.8Z" fill="#B93232" stroke="#FDF1EA" stroke-width="0.9" stroke-linejoin="round"/>
<path d="M902.9 483.9 L912.5 482.0 L922.1 478.1 L924.0 471.4 L932.6 472.4 L938.4 472.4 L944.1 474.3 L949.9 472.4 L952.8 482.0 L955.6 492.5 L949.9 499.2 L943.2 508.8 L941.3 516.5 L946.0 522.3 L943.2 527.1 L934.5 533.8 L929.7 543.4 L919.2 546.3 L907.7 548.2 L904.8 529.9 L900.0 516.5 L901.9 503.1 L904.8 493.5Z" fill="#FBD3B6" stroke="#FDF1EA" stroke-width="0.9" stroke-linejoin="round"/>
<path d="M955.6 492.5 L961.4 491.6 L969.1 490.6 L976.7 486.8 L984.4 487.7 L992.1 489.7 L999.8 493.5 L1007.4 491.6 L1013.2 485.8 L1017.0 483.9 L1019.0 493.5 L1021.8 505.0 L1020.9 516.5 L1022.8 528.0 L1015.1 531.9 L1009.4 539.5 L999.8 540.5 L990.2 542.4 L982.5 543.4 L972.9 537.6 L963.3 533.8 L953.7 529.9 L948.0 529.0 L946.0 522.3 L941.3 516.5 L943.2 508.8 L949.9 499.2Z" fill="#FBD3B6" stroke="#FDF1EA" stroke-width="0.9" stroke-linejoin="round"/>
<path d="M1017.0 483.9 L1025.7 482.0 L1030.5 487.7 L1034.3 495.4 L1038.1 499.2 L1047.7 493.5 L1053.5 491.6 L1059.2 499.2 L1068.8 503.1 L1073.6 512.7 L1078.4 520.4 L1080.4 528.0 L1073.6 533.8 L1071.7 543.4 L1079.4 555.8 L1072.7 564.5 L1063.1 570.2 L1053.5 577.9 L1042.0 584.6 L1026.6 586.5 L1016.1 588.5 L1015.1 576.0 L1013.2 560.6 L1010.3 549.1 L1009.4 539.5 L1015.1 531.9 L1022.8 528.0 L1020.9 516.5 L1021.8 505.0 L1019.0 493.5Z" fill="#FBD3B6" stroke="#FDF1EA" stroke-width="0.9" stroke-linejoin="round"/>
<path d="M1090.9 460.9 L1103.4 464.7 L1111.1 468.5 L1116.8 474.3 L1122.6 482.0 L1126.4 489.7 L1136.0 491.6 L1153.3 491.6 L1157.1 497.3 L1149.4 506.9 L1136.0 512.7 L1124.5 519.4 L1114.9 529.9 L1103.4 533.8 L1091.9 529.0 L1080.4 528.0 L1078.4 520.4 L1073.6 512.7 L1068.8 503.1 L1069.8 499.2 L1070.8 485.8 L1076.5 472.4 L1084.2 464.7Z" fill="#FBD3B6" stroke="#FDF1EA" stroke-width="0.9" stroke-linejoin="round"/>
<path d="M807.0 406.2 L805.1 412.0 L808.0 418.7 L807.0 426.4 L806.0 432.1" fill="none" stroke="#FDF3EC" stroke-width="0.9"/>
<path d="M830.0 406.2 L827.2 416.8 L832.0 422.5 L845.4 427.3 L856.9 429.2 L862.7 427.3" fill="none" stroke="#FDF3EC" stroke-width="0.9"/>
<path d="M922.1 389.9 L916.4 399.5 L916.4 405.2 L925.0 412.0 L918.3 416.8 L910.6 424.4 L908.7 430.2" fill="none" stroke="#FDF3EC" stroke-width="0.9"/>
<path d="M908.6 430.2 L919.2 439.8 L924.9 455.1 L928.8 462.8 L938.4 472.4" fill="none" stroke="#FDF3EC" stroke-width="0.9"/>
<path d="M955.6 397.6 L957.6 411.0 L956.6 424.4 L957.6 440.7" fill="none" stroke="#FDF3EC" stroke-width="0.9"/>
<path d="M1078.4 417.7 L1084.2 422.5 L1086.1 435.9 L1089.0 447.4 L1090.9 460.9" fill="none" stroke="#FDF3EC" stroke-width="0.9"/>
<path d="M1022.8 422.5 L1021.8 428.3" fill="none" stroke="#FDF3EC" stroke-width="0.9"/>
<path d="M1009.4 539.5 L1010.3 549.1 L1013.2 560.6 L1015.1 576.0 L1016.1 588.5" fill="none" stroke="#FDF3EC" stroke-width="0.9"/>
<rect x="1092.4" y="541" width="45.1" height="15.4" fill="#fff" />
<text x="1115.00" y="553.4" font-size="10.5" fill="#1A3668" font-family="DejaVu Sans Condensed, DejaVu Sans, sans-serif" font-weight="bold" text-anchor="middle"  stroke="#1A3668" stroke-width="0.29" stroke-linejoin="round">АР</text>
<text x="1115.90" y="575.6" font-size="13.5" fill="#fff" font-family="DejaVu Sans Condensed, DejaVu Sans, sans-serif" font-weight="bold" textLength="34.40" lengthAdjust="spacingAndGlyphs" text-anchor="middle"  stroke="#fff" stroke-width="0.38" stroke-linejoin="round">0000</text>
<rect x="1092.4" y="587.1" width="45.1" height="15.4" fill="#FBD3B6" />
<text x="1116.00" y="599.2" font-size="10" fill="#1A3668" font-family="DejaVu Sans Condensed, DejaVu Sans, sans-serif" font-weight="bold" text-anchor="middle"  stroke="#1A3668" stroke-width="0.28" stroke-linejoin="round">0000</text>
<text x="1146.55" y="547.6" font-size="5.6" fill="#fff" font-family="DejaVu Sans Condensed, DejaVu Sans, sans-serif" font-weight="bold" textLength="44.51" lengthAdjust="spacingAndGlyphs"  stroke="#fff" stroke-width="0.16" stroke-linejoin="round">АЙМГУУДЫН</text>
<text x="1146.55" y="555.3" font-size="5.6" fill="#fff" font-family="DejaVu Sans Condensed, DejaVu Sans, sans-serif" font-weight="bold" textLength="58.61" lengthAdjust="spacingAndGlyphs"  stroke="#fff" stroke-width="0.16" stroke-linejoin="round">ТОВЧИЛСОН НЭР</text>
<text x="1146.29" y="567.9" font-size="5.6" fill="#fff" font-family="DejaVu Sans Condensed, DejaVu Sans, sans-serif" font-weight="bold" textLength="69.66" lengthAdjust="spacingAndGlyphs"  stroke="#fff" stroke-width="0.16" stroke-linejoin="round">ӨДӨРТ БАТЛАГДСАН</text>
<text x="1146.55" y="575.6" font-size="5.6" fill="#fff" font-family="DejaVu Sans Condensed, DejaVu Sans, sans-serif" font-weight="bold" textLength="43.61" lengthAdjust="spacingAndGlyphs"  stroke="#fff" stroke-width="0.16" stroke-linejoin="round">ТОХИОЛДОЛ</text>
<text x="1146.03" y="591.7" font-size="5.6" fill="#fff" font-family="DejaVu Sans Condensed, DejaVu Sans, sans-serif" font-weight="bold" textLength="69.03" lengthAdjust="spacingAndGlyphs"  stroke="#fff" stroke-width="0.16" stroke-linejoin="round">НИЙТ  БАТЛАГДСАН</text>
<text x="1146.55" y="599.4" font-size="5.6" fill="#fff" font-family="DejaVu Sans Condensed, DejaVu Sans, sans-serif" font-weight="bold" textLength="43.61" lengthAdjust="spacingAndGlyphs"  stroke="#fff" stroke-width="0.16" stroke-linejoin="round">ТОХИОЛДОЛ</text>
<rect x="675.6" y="632.8" width="69.8" height="24.6" fill="#fff" />
<text x="710.50" y="651.4" font-size="15.8" fill="#1B2E58" font-family="DejaVu Sans Condensed, DejaVu Sans, sans-serif" font-weight="bold" text-anchor="middle"  stroke="#1B2E58" stroke-width="0.44" stroke-linejoin="round">АР</text>
<text x="711.10" y="680.8" font-size="19.8" fill="#fff" font-family="DejaVu Sans Condensed, DejaVu Sans, sans-serif" font-weight="bold" text-anchor="middle"  stroke="#fff" stroke-width="0.55" stroke-linejoin="round">64</text>
<rect x="675.6" y="687.2" width="69.8" height="24.6" fill="#FBD3B6" />
<text x="711.10" y="705.3" font-size="15.8" fill="#1B2E58" font-family="DejaVu Sans Condensed, DejaVu Sans, sans-serif" font-weight="bold" text-anchor="middle"  stroke="#1B2E58" stroke-width="0.44" stroke-linejoin="round">3597</text>
<rect x="754.53" y="632.8" width="69.8" height="24.6" fill="#fff" />
<text x="789.43" y="651.4" font-size="15.8" fill="#1B2E58" font-family="DejaVu Sans Condensed, DejaVu Sans, sans-serif" font-weight="bold" text-anchor="middle"  stroke="#1B2E58" stroke-width="0.44" stroke-linejoin="round">БӨ</text>
<text x="791.03" y="680.8" font-size="19.8" fill="#fff" font-family="DejaVu Sans Condensed, DejaVu Sans, sans-serif" font-weight="bold" text-anchor="middle"  stroke="#fff" stroke-width="0.55" stroke-linejoin="round">103</text>
<rect x="754.53" y="687.2" width="69.8" height="24.6" fill="#DE9A9C" />
<text x="790.03" y="707.3" font-size="15.8" fill="#1B2E58" font-family="DejaVu Sans Condensed, DejaVu Sans, sans-serif" font-weight="bold" text-anchor="middle"  stroke="#1B2E58" stroke-width="0.44" stroke-linejoin="round">6800</text>
<rect x="833.46" y="632.8" width="69.8" height="24.6" fill="#fff" />
<text x="868.36" y="651.4" font-size="15.8" fill="#1B2E58" font-family="DejaVu Sans Condensed, DejaVu Sans, sans-serif" font-weight="bold" text-anchor="middle"  stroke="#1B2E58" stroke-width="0.44" stroke-linejoin="round">БХ</text>
<text x="868.96" y="680.8" font-size="19.8" fill="#fff" font-family="DejaVu Sans Condensed, DejaVu Sans, sans-serif" font-weight="bold" text-anchor="middle"  stroke="#fff" stroke-width="0.55" stroke-linejoin="round">60</text>
<rect x="833.46" y="687.2" width="69.8" height="24.6" fill="#E8B9B9" />
<text x="868.96" y="707.3" font-size="15.8" fill="#1B2E58" font-family="DejaVu Sans Condensed, DejaVu Sans, sans-serif" font-weight="bold" text-anchor="middle"  stroke="#1B2E58" stroke-width="0.44" stroke-linejoin="round">4568</text>
<rect x="912.39" y="632.8" width="69.8" height="24.6" fill="#fff" />
<text x="947.29" y="651.4" font-size="15.8" fill="#1B2E58" font-family="DejaVu Sans Condensed, DejaVu Sans, sans-serif" font-weight="bold" text-anchor="middle"  stroke="#1B2E58" stroke-width="0.44" stroke-linejoin="round">БУ</text>
<text x="948.89" y="681.8" font-size="19.8" fill="#fff" font-family="DejaVu Sans Condensed, DejaVu Sans, sans-serif" font-weight="bold" text-anchor="middle"  stroke="#fff" stroke-width="0.55" stroke-linejoin="round">117</text>
<rect x="912.39" y="687.2" width="69.8" height="24.6" fill="#FBD3B6" />
<text x="947.89" y="705.8" font-size="15.8" fill="#1B2E58" font-family="DejaVu Sans Condensed, DejaVu Sans, sans-serif" font-weight="bold" text-anchor="middle"  stroke="#1B2E58" stroke-width="0.44" stroke-linejoin="round">2481</text>
<rect x="991.32" y="632.8" width="69.8" height="24.6" fill="#fff" />
<text x="1026.22" y="651.4" font-size="15.8" fill="#1B2E58" font-family="DejaVu Sans Condensed, DejaVu Sans, sans-serif" font-weight="bold" text-anchor="middle"  stroke="#1B2E58" stroke-width="0.44" stroke-linejoin="round">ГА</text>
<text x="1023.82" y="680.8" font-size="19.8" fill="#fff" font-family="DejaVu Sans Condensed, DejaVu Sans, sans-serif" font-weight="bold" text-anchor="middle"  stroke="#fff" stroke-width="0.55" stroke-linejoin="round">127</text>
<rect x="991.32" y="687.2" width="69.8" height="24.6" fill="#FBD3B6" />
<text x="1026.82" y="705.8" font-size="15.8" fill="#1B2E58" font-family="DejaVu Sans Condensed, DejaVu Sans, sans-serif" font-weight="bold" text-anchor="middle"  stroke="#1B2E58" stroke-width="0.44" stroke-linejoin="round">4315</text>
<rect x="1070.25" y="632.8" width="69.8" height="24.6" fill="#fff" />
<text x="1105.15" y="651.4" font-size="15.8" fill="#1B2E58" font-family="DejaVu Sans Condensed, DejaVu Sans, sans-serif" font-weight="bold" text-anchor="middle"  stroke="#1B2E58" stroke-width="0.44" stroke-linejoin="round">ГС</text>
<text x="1105.75" y="680.8" font-size="19.8" fill="#fff" font-family="DejaVu Sans Condensed, DejaVu Sans, sans-serif" font-weight="bold" text-anchor="middle"  stroke="#fff" stroke-width="0.55" stroke-linejoin="round">12</text>
<rect x="1070.25" y="687.2" width="69.8" height="24.6" fill="#F5DDDC" />
<text x="1105.75" y="705.8" font-size="15.8" fill="#1B2E58" font-family="DejaVu Sans Condensed, DejaVu Sans, sans-serif" font-weight="bold" text-anchor="middle"  stroke="#1B2E58" stroke-width="0.44" stroke-linejoin="round">1054</text>
<rect x="1149.18" y="632.8" width="69.8" height="24.6" fill="#fff" />
<text x="1184.08" y="651.4" font-size="15.8" fill="#1B2E58" font-family="DejaVu Sans Condensed, DejaVu Sans, sans-serif" font-weight="bold" text-anchor="middle"  stroke="#1B2E58" stroke-width="0.44" stroke-linejoin="round">ДА</text>
<text x="1185.68" y="677.8" font-size="19.8" fill="#fff" font-family="DejaVu Sans Condensed, DejaVu Sans, sans-serif" font-weight="bold" text-anchor="middle"  stroke="#fff" stroke-width="0.55" stroke-linejoin="round">37</text>
<rect x="1149.18" y="687.2" width="69.8" height="24.6" fill="#DF686A" />
<text x="1184.68" y="706.8" font-size="15.8" fill="#1B2E58" font-family="DejaVu Sans Condensed, DejaVu Sans, sans-serif" font-weight="bold" text-anchor="middle"  stroke="#1B2E58" stroke-width="0.44" stroke-linejoin="round">7533</text>
<rect x="675.6" y="750.7" width="69.8" height="24.6" fill="#fff" />
<text x="710.50" y="769.3" font-size="15.8" fill="#1B2E58" font-family="DejaVu Sans Condensed, DejaVu Sans, sans-serif" font-weight="bold" text-anchor="middle"  stroke="#1B2E58" stroke-width="0.44" stroke-linejoin="round">ДГ</text>
<text x="711.10" y="798.7" font-size="19.8" fill="#fff" font-family="DejaVu Sans Condensed, DejaVu Sans, sans-serif" font-weight="bold" text-anchor="middle"  stroke="#fff" stroke-width="0.55" stroke-linejoin="round">18</text>
<rect x="675.6" y="805.1" width="69.8" height="24.6" fill="#F5DDDC" />
<text x="711.10" y="824.7" font-size="15.8" fill="#1B2E58" font-family="DejaVu Sans Condensed, DejaVu Sans, sans-serif" font-weight="bold" text-anchor="middle"  stroke="#1B2E58" stroke-width="0.44" stroke-linejoin="round">795</text>
<rect x="754.53" y="750.7" width="69.8" height="24.6" fill="#fff" />
<text x="789.43" y="769.3" font-size="15.8" fill="#1B2E58" font-family="DejaVu Sans Condensed, DejaVu Sans, sans-serif" font-weight="bold" text-anchor="middle"  stroke="#1B2E58" stroke-width="0.44" stroke-linejoin="round">ДО</text>
<text x="793.03" y="798.7" font-size="19.8" fill="#fff" font-family="DejaVu Sans Condensed, DejaVu Sans, sans-serif" font-weight="bold" text-anchor="middle"  stroke="#fff" stroke-width="0.55" stroke-linejoin="round">148</text>
<rect x="754.53" y="805.1" width="69.8" height="24.6" fill="#FBD3B6" />
<text x="790.03" y="823.7" font-size="15.8" fill="#1B2E58" font-family="DejaVu Sans Condensed, DejaVu Sans, sans-serif" font-weight="bold" text-anchor="middle"  stroke="#1B2E58" stroke-width="0.44" stroke-linejoin="round">2476</text>
<rect x="833.46" y="750.7" width="69.8" height="24.6" fill="#fff" />
<text x="868.36" y="769.3" font-size="15.8" fill="#1B2E58" font-family="DejaVu Sans Condensed, DejaVu Sans, sans-serif" font-weight="bold" text-anchor="middle"  stroke="#1B2E58" stroke-width="0.44" stroke-linejoin="round">ДУ</text>
<text x="868.96" y="798.7" font-size="19.8" fill="#fff" font-family="DejaVu Sans Condensed, DejaVu Sans, sans-serif" font-weight="bold" text-anchor="middle"  stroke="#fff" stroke-width="0.55" stroke-linejoin="round">41</text>
<rect x="833.46" y="805.1" width="69.8" height="24.6" fill="#FBD3B6" />
<text x="868.96" y="824.7" font-size="15.8" fill="#1B2E58" font-family="DejaVu Sans Condensed, DejaVu Sans, sans-serif" font-weight="bold" text-anchor="middle"  stroke="#1B2E58" stroke-width="0.44" stroke-linejoin="round">1793</text>
<rect x="912.39" y="750.7" width="69.8" height="24.6" fill="#fff" />
<text x="947.29" y="769.3" font-size="15.8" fill="#1B2E58" font-family="DejaVu Sans Condensed, DejaVu Sans, sans-serif" font-weight="bold" text-anchor="middle"  stroke="#1B2E58" stroke-width="0.44" stroke-linejoin="round">ЗА</text>
<text x="947.89" y="798.7" font-size="19.8" fill="#fff" font-family="DejaVu Sans Condensed, DejaVu Sans, sans-serif" font-weight="bold" text-anchor="middle"  stroke="#fff" stroke-width="0.55" stroke-linejoin="round">110</text>
<rect x="912.39" y="805.1" width="69.8" height="24.6" fill="#FBD3B6" />
<text x="947.89" y="823.7" font-size="15.8" fill="#1B2E58" font-family="DejaVu Sans Condensed, DejaVu Sans, sans-serif" font-weight="bold" text-anchor="middle"  stroke="#1B2E58" stroke-width="0.44" stroke-linejoin="round">3071</text>
<rect x="991.32" y="750.7" width="69.8" height="24.6" fill="#fff" />
<text x="1026.22" y="769.3" font-size="15.8" fill="#1B2E58" font-family="DejaVu Sans Condensed, DejaVu Sans, sans-serif" font-weight="bold" text-anchor="middle"  stroke="#1B2E58" stroke-width="0.44" stroke-linejoin="round">ОР</text>
<text x="1026.82" y="798.7" font-size="19.8" fill="#fff" font-family="DejaVu Sans Condensed, DejaVu Sans, sans-serif" font-weight="bold" text-anchor="middle"  stroke="#fff" stroke-width="0.55" stroke-linejoin="round">42</text>
<rect x="991.32" y="805.1" width="69.8" height="24.6" fill="#DE9A9C" />
<text x="1026.82" y="825.2" font-size="15.8" fill="#1B2E58" font-family="DejaVu Sans Condensed, DejaVu Sans, sans-serif" font-weight="bold" text-anchor="middle"  stroke="#1B2E58" stroke-width="0.44" stroke-linejoin="round">6250</text>
<rect x="1070.25" y="750.7" width="69.8" height="24.6" fill="#fff" />
<text x="1105.15" y="769.3" font-size="15.8" fill="#1B2E58" font-family="DejaVu Sans Condensed, DejaVu Sans, sans-serif" font-weight="bold" text-anchor="middle"  stroke="#1B2E58" stroke-width="0.44" stroke-linejoin="round">ӨВ</text>
<text x="1105.75" y="798.7" font-size="19.8" fill="#fff" font-family="DejaVu Sans Condensed, DejaVu Sans, sans-serif" font-weight="bold" text-anchor="middle"  stroke="#fff" stroke-width="0.55" stroke-linejoin="round">71</text>
<rect x="1070.25" y="805.1" width="69.8" height="24.6" fill="#FBD3B6" />
<text x="1105.75" y="823.7" font-size="15.8" fill="#1B2E58" font-family="DejaVu Sans Condensed, DejaVu Sans, sans-serif" font-weight="bold" text-anchor="middle"  stroke="#1B2E58" stroke-width="0.44" stroke-linejoin="round">4273</text>
<rect x="1149.18" y="750.7" width="69.8" height="24.6" fill="#fff" />
<text x="1184.08" y="769.3" font-size="15.8" fill="#1B2E58" font-family="DejaVu Sans Condensed, DejaVu Sans, sans-serif" font-weight="bold" text-anchor="middle"  stroke="#1B2E58" stroke-width="0.44" stroke-linejoin="round">ӨМ</text>
<text x="1184.68" y="798.7" font-size="19.8" fill="#fff" font-family="DejaVu Sans Condensed, DejaVu Sans, sans-serif" font-weight="bold" text-anchor="middle"  stroke="#fff" stroke-width="0.55" stroke-linejoin="round">21</text>
<rect x="1149.18" y="805.1" width="69.8" height="24.6" fill="#FBE5D9" />
<text x="1184.68" y="823.7" font-size="15.8" fill="#1B2E58" font-family="DejaVu Sans Condensed, DejaVu Sans, sans-serif" font-weight="bold" text-anchor="middle"  stroke="#1B2E58" stroke-width="0.44" stroke-linejoin="round">718</text>
<rect x="675.6" y="868.6" width="69.8" height="24.6" fill="#fff" />
<text x="710.50" y="887.2" font-size="15.8" fill="#1B2E58" font-family="DejaVu Sans Condensed, DejaVu Sans, sans-serif" font-weight="bold" text-anchor="middle"  stroke="#1B2E58" stroke-width="0.44" stroke-linejoin="round">СҮ</text>
<text x="711.10" y="916.6" font-size="19.8" fill="#fff" font-family="DejaVu Sans Condensed, DejaVu Sans, sans-serif" font-weight="bold" text-anchor="middle"  stroke="#fff" stroke-width="0.55" stroke-linejoin="round">15</text>
<rect x="675.6" y="923" width="69.8" height="24.6" fill="#FBE5D9" />
<text x="711.10" y="941.6" font-size="15.8" fill="#1B2E58" font-family="DejaVu Sans Condensed, DejaVu Sans, sans-serif" font-weight="bold" text-anchor="middle"  stroke="#1B2E58" stroke-width="0.44" stroke-linejoin="round">2147</text>
<rect x="754.53" y="868.6" width="69.8" height="24.6" fill="#fff" />
<text x="789.43" y="887.2" font-size="15.8" fill="#1B2E58" font-family="DejaVu Sans Condensed, DejaVu Sans, sans-serif" font-weight="bold" text-anchor="middle"  stroke="#1B2E58" stroke-width="0.44" stroke-linejoin="round">СЭ</text>
<text x="790.03" y="916.6" font-size="19.8" fill="#fff" font-family="DejaVu Sans Condensed, DejaVu Sans, sans-serif" font-weight="bold" text-anchor="middle"  stroke="#fff" stroke-width="0.55" stroke-linejoin="round">115</text>
<rect x="754.53" y="923" width="69.8" height="24.6" fill="#E8B9B9" />
<text x="790.03" y="943.6" font-size="15.8" fill="#1B2E58" font-family="DejaVu Sans Condensed, DejaVu Sans, sans-serif" font-weight="bold" text-anchor="middle"  stroke="#1B2E58" stroke-width="0.44" stroke-linejoin="round">4597</text>
<rect x="833.46" y="868.6" width="69.8" height="24.6" fill="#fff" />
<text x="868.36" y="887.2" font-size="15.8" fill="#1B2E58" font-family="DejaVu Sans Condensed, DejaVu Sans, sans-serif" font-weight="bold" text-anchor="middle"  stroke="#1B2E58" stroke-width="0.44" stroke-linejoin="round">ТӨ</text>
<text x="868.96" y="916.6" font-size="19.8" fill="#fff" font-family="DejaVu Sans Condensed, DejaVu Sans, sans-serif" font-weight="bold" text-anchor="middle"  stroke="#fff" stroke-width="0.55" stroke-linejoin="round">41</text>
<rect x="833.46" y="923" width="69.8" height="24.6" fill="#E8B9B9" />
<text x="868.96" y="941.6" font-size="15.8" fill="#1B2E58" font-family="DejaVu Sans Condensed, DejaVu Sans, sans-serif" font-weight="bold" text-anchor="middle"  stroke="#1B2E58" stroke-width="0.44" stroke-linejoin="round">4825</text>
<rect x="912.39" y="868.6" width="69.8" height="24.6" fill="#fff" />
<text x="947.29" y="887.2" font-size="15.8" fill="#1B2E58" font-family="DejaVu Sans Condensed, DejaVu Sans, sans-serif" font-weight="bold" text-anchor="middle"  stroke="#1B2E58" stroke-width="0.44" stroke-linejoin="round">УВ</text>
<text x="947.89" y="916.6" font-size="19.8" fill="#fff" font-family="DejaVu Sans Condensed, DejaVu Sans, sans-serif" font-weight="bold" text-anchor="middle"  stroke="#fff" stroke-width="0.55" stroke-linejoin="round">67</text>
<rect x="912.39" y="923" width="69.8" height="24.6" fill="#FBE5D9" />
<text x="947.89" y="941.6" font-size="15.8" fill="#1B2E58" font-family="DejaVu Sans Condensed, DejaVu Sans, sans-serif" font-weight="bold" text-anchor="middle"  stroke="#1B2E58" stroke-width="0.44" stroke-linejoin="round">3812</text>
<rect x="991.32" y="868.6" width="69.8" height="24.6" fill="#fff" />
<text x="1026.22" y="887.2" font-size="15.8" fill="#1B2E58" font-family="DejaVu Sans Condensed, DejaVu Sans, sans-serif" font-weight="bold" text-anchor="middle"  stroke="#1B2E58" stroke-width="0.44" stroke-linejoin="round">ХО</text>
<text x="1027.82" y="913.6" font-size="19.8" fill="#fff" font-family="DejaVu Sans Condensed, DejaVu Sans, sans-serif" font-weight="bold" text-anchor="middle"  stroke="#fff" stroke-width="0.55" stroke-linejoin="round">292</text>
<rect x="991.32" y="923" width="69.8" height="24.6" fill="#E8B9B9" />
<text x="1026.82" y="943.6" font-size="15.8" fill="#1B2E58" font-family="DejaVu Sans Condensed, DejaVu Sans, sans-serif" font-weight="bold" text-anchor="middle"  stroke="#1B2E58" stroke-width="0.44" stroke-linejoin="round">6190</text>
<rect x="1070.25" y="868.6" width="69.8" height="24.6" fill="#fff" />
<text x="1105.15" y="887.2" font-size="15.8" fill="#1B2E58" font-family="DejaVu Sans Condensed, DejaVu Sans, sans-serif" font-weight="bold" text-anchor="middle"  stroke="#1B2E58" stroke-width="0.44" stroke-linejoin="round">ХӨ</text>
<text x="1105.75" y="916.6" font-size="19.8" fill="#fff" font-family="DejaVu Sans Condensed, DejaVu Sans, sans-serif" font-weight="bold" text-anchor="middle"  stroke="#fff" stroke-width="0.55" stroke-linejoin="round">88</text>
<rect x="1070.25" y="923" width="69.8" height="24.6" fill="#FBE5D9" />
<text x="1105.75" y="941.6" font-size="15.8" fill="#1B2E58" font-family="DejaVu Sans Condensed, DejaVu Sans, sans-serif" font-weight="bold" text-anchor="middle"  stroke="#1B2E58" stroke-width="0.44" stroke-linejoin="round">3292</text>
<rect x="1149.18" y="868.6" width="69.8" height="24.6" fill="#fff" />
<text x="1184.08" y="887.2" font-size="15.8" fill="#1B2E58" font-family="DejaVu Sans Condensed, DejaVu Sans, sans-serif" font-weight="bold" text-anchor="middle"  stroke="#1B2E58" stroke-width="0.44" stroke-linejoin="round">ХЭ</text>
<text x="1184.68" y="916.6" font-size="19.8" fill="#fff" font-family="DejaVu Sans Condensed, DejaVu Sans, sans-serif" font-weight="bold" text-anchor="middle"  stroke="#fff" stroke-width="0.55" stroke-linejoin="round">68</text>
<rect x="1149.18" y="923" width="69.8" height="24.6" fill="#FBE5D9" />
<text x="1184.68" y="941.6" font-size="15.8" fill="#1B2E58" font-family="DejaVu Sans Condensed, DejaVu Sans, sans-serif" font-weight="bold" text-anchor="middle"  stroke="#1B2E58" stroke-width="0.44" stroke-linejoin="round">2837</text>
<text x="1402.14" y="310.1" font-size="24.6" fill="#1A3668" font-family="DejaVu Sans Condensed, DejaVu Sans, sans-serif" font-weight="bold" textLength="268.83" lengthAdjust="spacingAndGlyphs"  stroke="#1A3668" stroke-width="0.69" stroke-linejoin="round">ТАРХВАРЗҮЙН МУРУЙ</text>
<text x="1428.35" y="355.5" font-size="10.6" fill="#111" font-family="Liberation Sans, sans-serif" font-weight="bold" textLength="217.03" lengthAdjust="spacingAndGlyphs" >Монгол улсад бүртгэгдсэн КОВИД-19 өвчлөл</text>
<line x1="1284.0" y1="371.9" x2="1811" y2="371.9" stroke="#d9d9d9" stroke-width="0.7"/>
<text x="1282.30" y="373.2" font-size="3.6" fill="#666" font-family="Liberation Sans, sans-serif" text-anchor="end" >3000</text>
<line x1="1284.0" y1="438.6" x2="1811" y2="438.6" stroke="#d9d9d9" stroke-width="0.7"/>
<text x="1282.30" y="439.9" font-size="3.6" fill="#666" font-family="Liberation Sans, sans-serif" text-anchor="end" >2000</text>
<line x1="1284.0" y1="505.3" x2="1811" y2="505.3" stroke="#d9d9d9" stroke-width="0.7"/>
<text x="1282.30" y="506.6" font-size="3.6" fill="#666" font-family="Liberation Sans, sans-serif" text-anchor="end" >1000</text>
<text x="1282.30" y="573.3" font-size="3.6" fill="#666" font-family="Liberation Sans, sans-serif" text-anchor="end" >0</text>
<line x1="1284.0" y1="370" x2="1284.0" y2="572.0" stroke="#555" stroke-width="0.6"/>
<line x1="1284.0" y1="572.0" x2="1811" y2="572.0" stroke="#888" stroke-width="0.6"/>
<text transform="translate(1264.5 482) rotate(-90)" font-size="3.8" fill="#555" font-family="Liberation Sans, sans-serif" text-anchor="middle">Тухайн өдөр</text>
<path d="M1284.50 572.0v-2.8h1.8v2.8zM1287.42 572.0v-2.4h1.8v2.4zM1290.34 572.0v-2.4h1.8v2.4zM1293.26 572.0v-2.4h1.8v2.4zM1296.18 572.0v-5.6h1.8v5.6zM1299.10 572.0v-2.8h1.8v2.8zM1302.02 572.0v-4.8h1.8v4.8zM1304.94 572.0v-7.2h1.8v7.2zM1307.87 572.0v-2.8h1.8v2.8zM1310.79 572.0v-7.2h1.8v7.2zM1313.71 572.0v-4.4h1.8v4.4zM1316.63 572.0v-5.2h1.8v5.2zM1319.55 572.0v-11.6h1.8v11.6zM1322.47 572.0v-8.0h1.8v8.0zM1325.39 572.0v-7.6h1.8v7.6zM1328.31 572.0v-8.0h1.8v8.0zM1331.23 572.0v-8.4h1.8v8.4zM1334.15 572.0v-10.0h1.8v10.0zM1337.07 572.0v-10.0h1.8v10.0zM1339.99 572.0v-9.2h1.8v9.2zM1342.91 572.0v-11.6h1.8v11.6zM1345.83 572.0v-14.0h1.8v14.0zM1348.75 572.0v-14.0h1.8v14.0zM1351.68 572.0v-14.4h1.8v14.4zM1354.60 572.0v-18.8h1.8v18.8zM1357.52 572.0v-29.6h1.8v29.6zM1360.44 572.0v-24.0h1.8v24.0zM1363.36 572.0v-19.6h1.8v19.6zM1366.28 572.0v-38.8h1.8v38.8zM1369.20 572.0v-31.6h1.8v31.6zM1372.12 572.0v-25.2h1.8v25.2zM1375.04 572.0v-26.8h1.8v26.8zM1377.96 572.0v-32.4h1.8v32.4zM1380.88 572.0v-18.0h1.8v18.0zM1383.80 572.0v-41.6h1.8v41.6zM1386.72 572.0v-40.0h1.8v40.0zM1389.64 572.0v-56.0h1.8v56.0zM1392.56 572.0v-38.0h1.8v38.0zM1395.49 572.0v-37.2h1.8v37.2zM1398.41 572.0v-48.4h1.8v48.4zM1401.33 572.0v-46.0h1.8v46.0zM1404.25 572.0v-55.6h1.8v55.6zM1407.17 572.0v-46.8h1.8v46.8zM1410.09 572.0v-59.6h1.8v59.6zM1413.01 572.0v-81.6h1.8v81.6zM1415.93 572.0v-50.8h1.8v50.8zM1418.85 572.0v-73.8h1.8v73.8zM1421.77 572.0v-65.9h1.8v65.9zM1424.69 572.0v-89.7h1.8v89.7zM1427.61 572.0v-58.9h1.8v58.9zM1430.53 572.0v-87.7h1.8v87.7zM1433.45 572.0v-77.8h1.8v77.8zM1436.37 572.0v-89.0h1.8v89.0zM1439.30 572.0v-84.3h1.8v84.3zM1442.22 572.0v-83.8h1.8v83.8zM1445.14 572.0v-84.3h1.8v84.3zM1448.06 572.0v-56.9h1.8v56.9zM1450.98 572.0v-73.3h1.8v73.3zM1453.90 572.0v-77.8h1.8v77.8zM1456.82 572.0v-67.8h1.8v67.8zM1459.74 572.0v-91.2h1.8v91.2zM1462.66 572.0v-87.2h1.8v87.2zM1465.58 572.0v-79.3h1.8v79.3zM1468.50 572.0v-60.4h1.8v60.4zM1471.42 572.0v-67.8h1.8v67.8zM1474.34 572.0v-75.3h1.8v75.3zM1477.26 572.0v-62.4h1.8v62.4zM1480.18 572.0v-49.4h1.8v49.4zM1483.11 572.0v-54.4h1.8v54.4zM1486.03 572.0v-53.9h1.8v53.9zM1488.95 572.0v-42.5h1.8v42.5zM1491.87 572.0v-31.5h1.8v31.5zM1494.79 572.0v-34.0h1.8v34.0zM1497.71 572.0v-39.0h1.8v39.0zM1500.63 572.0v-34.5h1.8v34.5zM1503.55 572.0v-36.5h1.8v36.5zM1506.47 572.0v-36.0h1.8v36.0zM1509.39 572.0v-35.0h1.8v35.0zM1512.31 572.0v-23.1h1.8v23.1zM1515.23 572.0v-38.5h1.8v38.5zM1518.15 572.0v-34.0h1.8v34.0zM1521.07 572.0v-42.0h1.8v42.0zM1523.99 572.0v-45.5h1.8v45.5zM1526.92 572.0v-36.5h1.8v36.5zM1529.84 572.0v-42.0h1.8v42.0zM1532.76 572.0v-42.5h1.8v42.5zM1535.68 572.0v-45.0h1.8v45.0zM1538.60 572.0v-43.0h1.8v43.0zM1541.52 572.0v-52.4h1.8v52.4zM1544.44 572.0v-50.9h1.8v50.9zM1547.36 572.0v-59.9h1.8v59.9zM1550.28 572.0v-61.4h1.8v61.4zM1553.20 572.0v-52.4h1.8v52.4zM1556.12 572.0v-75.8h1.8v75.8zM1559.04 572.0v-68.4h1.8v68.4zM1561.96 572.0v-79.6h1.8v79.6zM1564.88 572.0v-93.0h1.8v93.0zM1567.81 572.0v-85.6h1.8v85.6zM1570.73 572.0v-75.1h1.8v75.1zM1573.65 572.0v-84.1h1.8v84.1zM1576.57 572.0v-87.1h1.8v87.1zM1579.49 572.0v-97.5h1.8v97.5zM1582.41 572.0v-108.0h1.8v108.0zM1585.33 572.0v-119.9h1.8v119.9zM1588.25 572.0v-146.0h1.8v146.0zM1591.17 572.0v-150.5h1.8v150.5zM1594.09 572.0v-159.5h1.8v159.5zM1597.01 572.0v-159.5h1.8v159.5zM1599.93 572.0v-175.9h1.8v175.9zM1602.85 572.0v-184.1h1.8v184.1zM1605.77 572.0v-175.9h1.8v175.9zM1608.69 572.0v-160.2h1.8v160.2zM1611.62 572.0v-151.3h1.8v151.3zM1614.54 572.0v-149.0h1.8v149.0zM1617.46 572.0v-147.5h1.8v147.5zM1620.38 572.0v-158.0h1.8v158.0zM1623.30 572.0v-151.3h1.8v151.3zM1626.22 572.0v-158.0h1.8v158.0zM1629.14 572.0v-162.9h1.8v162.9zM1632.06 572.0v-120.7h1.8v120.7zM1634.98 572.0v-115.4h1.8v115.4zM1637.90 572.0v-149.8h1.8v149.8zM1640.82 572.0v-166.2h1.8v166.2zM1643.74 572.0v-158.7h1.8v158.7zM1646.66 572.0v-160.2h1.8v160.2zM1649.58 572.0v-167.7h1.8v167.7zM1652.50 572.0v-103.5h1.8v103.5zM1655.43 572.0v-108.7h1.8v108.7zM1658.35 572.0v-133.3h1.8v133.3zM1661.27 572.0v-100.5h1.8v100.5zM1664.19 572.0v-154.2h1.8v154.2zM1667.11 572.0v-118.4h1.8v118.4zM1670.03 572.0v-116.2h1.8v116.2zM1672.95 572.0v-99.8h1.8v99.8zM1675.87 572.0v-83.3h1.8v83.3zM1678.79 572.0v-77.4h1.8v77.4zM1681.71 572.0v-96.0h1.8v96.0zM1684.63 572.0v-90.8h1.8v90.8zM1687.55 572.0v-86.3h1.8v86.3zM1690.47 572.0v-97.5h1.8v97.5zM1693.39 572.0v-78.1h1.8v78.1zM1696.31 572.0v-88.6h1.8v88.6zM1699.24 572.0v-99.6h1.8v99.6zM1702.16 572.0v-87.4h1.8v87.4zM1705.08 572.0v-83.0h1.8v83.0zM1708.00 572.0v-97.0h1.8v97.0zM1710.92 572.0v-101.0h1.8v101.0zM1713.84 572.0v-84.0h1.8v84.0zM1716.76 572.0v-74.0h1.8v74.0zM1719.68 572.0v-82.7h1.8v82.7zM1722.60 572.0v-82.7h1.8v82.7zM1725.52 572.0v-86.8h1.8v86.8zM1728.44 572.0v-84.7h1.8v84.7zM1731.36 572.0v-65.8h1.8v65.8zM1734.28 572.0v-70.6h1.8v70.6zM1737.20 572.0v-67.9h1.8v67.9zM1740.12 572.0v-96.6h1.8v96.6zM1743.05 572.0v-78.7h1.8v78.7zM1745.97 572.0v-83.4h1.8v83.4zM1748.89 572.0v-64.5h1.8v64.5zM1751.81 572.0v-97.6h1.8v97.6zM1754.73 572.0v-71.9h1.8v71.9zM1757.65 572.0v-63.8h1.8v63.8zM1760.57 572.0v-96.2h1.8v96.2zM1763.49 572.0v-96.6h1.8v96.6zM1766.41 572.0v-97.2h1.8v97.2zM1769.33 572.0v-93.5h1.8v93.5zM1772.25 572.0v-86.1h1.8v86.1zM1775.17 572.0v-71.2h1.8v71.2zM1778.09 572.0v-86.1h1.8v86.1zM1781.01 572.0v-105.7h1.8v105.7zM1783.93 572.0v-126.0h1.8v126.0zM1786.86 572.0v-123.2h1.8v123.2zM1789.78 572.0v-110.4h1.8v110.4zM1792.70 572.0v-119.2h1.8v119.2zM1795.62 572.0v-105.0h1.8v105.0zM1798.54 572.0v-107.0h1.8v107.0zM1801.46 572.0v-166.4h1.8v166.4zM1804.38 572.0v-165.0h1.8v165.0zM1807.30 572.0v-163.0h1.8v163.0z" fill="#4C8BF5"/>
<path d="M1285.7 568.8 L1307.7 567.5 L1324.7 564.8 L1341.6 561.4 L1355.1 558.0 L1368.7 547.8 L1382.2 541.1 L1389.0 542.8 L1399.2 534.3 L1409.3 525.8 L1416.1 524.1 L1426.3 507.2 L1436.4 495.4 L1443.2 490.3 L1450.0 491.0 L1460.1 495.4 L1477.0 496.0 L1483.8 507.2 L1494.0 520.8 L1504.1 530.9 L1517.7 537.0 L1531.2 534.3 L1544.8 527.5 L1554.9 519.1 L1565.1 502.1 L1578.6 486.9 L1585.4 476.7 L1595.6 442.9 L1605.7 412.4 L1610.8 404.9 L1619.3 407.3 L1632.8 419.2 L1639.6 425.9 L1649.8 423.2 L1659.9 429.3 L1670.1 449.6 L1680.2 463.2 L1690.4 480.1 L1700.5 481.8 L1707.3 482.8 L1714.1 480.8 L1724.3 485.2 L1734.4 492.0 L1748.0 493.7 L1761.5 491.3 L1771.7 483.5 L1778.4 482.8 L1788.6 471.6 L1798.8 459.8 L1804.8 445.6" fill="none" stroke="#EA4335" stroke-width="1.4" stroke-linejoin="round"/>
<g font-family="Liberation Sans, sans-serif" font-size="4.3" fill="#444"><text transform="translate(1286.5 597) rotate(-90)">2021-03-01</text><text transform="translate(1292.3 597) rotate(-90)">2021-03-03</text><text transform="translate(1298.2 597) rotate(-90)">2021-03-05</text><text transform="translate(1304.0 597) rotate(-90)">2021-03-07</text><text transform="translate(1309.9 597) rotate(-90)">2021-03-09</text><text transform="translate(1315.7 597) rotate(-90)">2021-03-11</text><text transform="translate(1321.5 597) rotate(-90)">2021-03-13</text><text transform="translate(1327.4 597) rotate(-90)">2021-03-15</text><text transform="translate(1333.2 597) rotate(-90)">2021-03-17</text><text transform="translate(1339.1 597) rotate(-90)">2021-03-19</text><text transform="translate(1344.9 597) rotate(-90)">2021-03-21</text><text transform="translate(1350.8 597) rotate(-90)">2021-03-23</text><text transform="translate(1356.6 597) rotate(-90)">2021-03-25</text><text transform="translate(1362.4 597) rotate(-90)">2021-03-27</text><text transform="translate(1368.3 597) rotate(-90)">2021-03-29</text><text transform="translate(1374.1 597) rotate(-90)">2021-03-31</text><text transform="translate(1380.0 597) rotate(-90)">2021-04-02</text><text transform="translate(1385.8 597) rotate(-90)">2021-04-04</text><text transform="translate(1391.6 597) rotate(-90)">2021-04-06</text><text transform="translate(1397.5 597) rotate(-90)">2021-04-08</text><text transform="translate(1403.3 597) rotate(-90)">2021-04-10</text><text transform="translate(1409.2 597) rotate(-90)">2021-04-12</text><text transform="translate(1415.0 597) rotate(-90)">2021-04-14</text><text transform="translate(1420.9 597) rotate(-90)">2021-04-16</text><text transform="translate(1426.7 597) rotate(-90)">2021-04-18</text><text transform="translate(1432.5 597) rotate(-90)">2021-04-20</text><text transform="translate(1438.4 597) rotate(-90)">2021-04-22</text><text transform="translate(1444.2 597) rotate(-90)">2021-04-24</text><text transform="translate(1450.1 597) rotate(-90)">2021-04-26</text><text transform="translate(1455.9 597) rotate(-90)">2021-04-28</text><text transform="translate(1461.7 597) rotate(-90)">2021-04-30</text><text transform="translate(1467.6 597) rotate(-90)">2021-05-02</text><text transform="translate(1473.4 597) rotate(-90)">2021-05-04</text><text transform="translate(1479.3 597) rotate(-90)">2021-05-06</text><text transform="translate(1485.1 597) rotate(-90)">2021-05-08</text><text transform="translate(1490.9 597) rotate(-90)">2021-05-10</text><text transform="translate(1496.8 597) rotate(-90)">2021-05-12</text><text transform="translate(1502.6 597) rotate(-90)">2021-05-14</text><text transform="translate(1508.5 597) rotate(-90)">2021-05-16</text><text transform="translate(1514.3 597) rotate(-90)">2021-05-18</text><text transform="translate(1520.2 597) rotate(-90)">2021-05-20</text><text transform="translate(1526.0 597) rotate(-90)">2021-05-22</text><text transform="translate(1531.8 597) rotate(-90)">2021-05-24</text><text transform="translate(1537.7 597) rotate(-90)">2021-05-26</text><text transform="translate(1543.5 597) rotate(-90)">2021-05-28</text><text transform="translate(1549.4 597) rotate(-90)">2021-05-30</text><text transform="translate(1555.2 597) rotate(-90)">2021-06-01</text><text transform="translate(1561.0 597) rotate(-90)">2021-06-03</text><text transform="translate(1566.9 597) rotate(-90)">2021-06-05</text><text transform="translate(1572.7 597) rotate(-90)">2021-06-07</text><text transform="translate(1578.6 597) rotate(-90)">2021-06-09</text><text transform="translate(1584.4 597) rotate(-90)">2021-06-11</text><text transform="translate(1590.2 597) rotate(-90)">2021-06-13</text><text transform="translate(1596.1 597) rotate(-90)">2021-06-15</text><text transform="translate(1601.9 597) rotate(-90)">2021-06-17</text><text transform="translate(1607.8 597) rotate(-90)">2021-06-19</text><text transform="translate(1613.6 597) rotate(-90)">2021-06-21</text><text transform="translate(1619.5 597) rotate(-90)">2021-06-23</text><text transform="translate(1625.3 597) rotate(-90)">2021-06-25</text><text transform="translate(1631.1 597) rotate(-90)">2021-06-27</text><text transform="translate(1637.0 597) rotate(-90)">2021-06-29</text><text transform="translate(1642.8 597) rotate(-90)">2021-07-01</text><text transform="translate(1648.7 597) rotate(-90)">2021-07-03</text><text transform="translate(1654.5 597) rotate(-90)">2021-07-05</text><text transform="translate(1660.3 597) rotate(-90)">2021-07-07</text><text transform="translate(1666.2 597) rotate(-90)">2021-07-09</text><text transform="translate(1672.0 597) rotate(-90)">2021-07-11</text><text transform="translate(1677.9 597) rotate(-90)">2021-07-13</text><text transform="translate(1683.7 597) rotate(-90)">2021-07-15</text><text transform="translate(1689.6 597) rotate(-90)">2021-07-17</text><text transform="translate(1695.4 597) rotate(-90)">2021-07-19</text><text transform="translate(1701.2 597) rotate(-90)">2021-07-21</text><text transform="translate(1707.1 597) rotate(-90)">2021-07-23</text><text transform="translate(1712.9 597) rotate(-90)">2021-07-25</text><text transform="translate(1718.8 597) rotate(-90)">2021-07-27</text><text transform="translate(1724.6 597) rotate(-90)">2021-07-29</text><text transform="translate(1730.4 597) rotate(-90)">2021-07-31</text><text transform="translate(1736.3 597) rotate(-90)">2021-08-02</text><text transform="translate(1742.1 597) rotate(-90)">2021-08-04</text><text transform="translate(1748.0 597) rotate(-90)">2021-08-06</text><text transform="translate(1753.8 597) rotate(-90)">2021-08-08</text><text transform="translate(1759.6 597) rotate(-90)">2021-08-10</text><text transform="translate(1765.5 597) rotate(-90)">2021-08-12</text><text transform="translate(1771.3 597) rotate(-90)">2021-08-14</text><text transform="translate(1777.2 597) rotate(-90)">2021-08-16</text><text transform="translate(1783.0 597) rotate(-90)">2021-08-18</text><text transform="translate(1788.9 597) rotate(-90)">2021-08-20</text><text transform="translate(1794.7 597) rotate(-90)">2021-08-22</text><text transform="translate(1800.5 597) rotate(-90)">2021-08-24</text><text transform="translate(1806.4 597) rotate(-90)">2021-08-26</text></g>
<rect x="1417.6" y="608.4" width="2.8" height="2.8" fill="#4C8BF5" />
<text x="1422.62" y="611.6" font-size="4.9" fill="#333" font-family="Liberation Sans, sans-serif" textLength="75.28" lengthAdjust="spacingAndGlyphs" >Нийт батлагдсан тохиолдол</text>
<line x1="1502.6" y1="609.8" x2="1505.8" y2="609.8" stroke="#EA4335" stroke-width="1.1"/>
<text x="1507.12" y="611.6" font-size="4.9" fill="#333" font-family="Liberation Sans, sans-serif" textLength="146.70" lengthAdjust="spacingAndGlyphs" >Батлагдсан тохиолдол 7 хоногийн хөдөлгөөнт дундаж</text>
<text x="1333.18" y="670.8" font-size="24.2" fill="#1A3668" font-family="DejaVu Sans Condensed, DejaVu Sans, sans-serif" font-weight="bold" textLength="401.57" lengthAdjust="spacingAndGlyphs"  stroke="#1A3668" stroke-width="0.68" stroke-linejoin="round">ВАКЦИНЖУУЛАЛТ /нийт хүн ам/</text>
<text x="1349.80" y="795.4" font-size="18.6" fill="#FFC000" font-family="DejaVu Sans Condensed, DejaVu Sans, sans-serif" textLength="56.78" lengthAdjust="spacingAndGlyphs" >I тун:</text>
<text x="1285.31" y="836" font-size="36.3" fill="#fff" font-family="DejaVu Sans Condensed, DejaVu Sans, sans-serif" font-weight="bold" textLength="186.04" lengthAdjust="spacingAndGlyphs"  stroke="#fff" stroke-width="1.02" stroke-linejoin="round">2,234,061</text>
<text x="1314.06" y="872.3" font-size="26.5" fill="#FFC000" font-family="DejaVu Sans Condensed, DejaVu Sans, sans-serif" font-weight="bold" textLength="128.59" lengthAdjust="spacingAndGlyphs"  stroke="#FFC000" stroke-width="0.74" stroke-linejoin="round">(68,7%)</text>
<text x="1657.11" y="791" font-size="18.6" fill="#FFC000" font-family="DejaVu Sans Condensed, DejaVu Sans, sans-serif" textLength="65.58" lengthAdjust="spacingAndGlyphs" >II тун:</text>
<text x="1597.52" y="830.6" font-size="36.3" fill="#fff" font-family="DejaVu Sans Condensed, DejaVu Sans, sans-serif" font-weight="bold" textLength="185.32" lengthAdjust="spacingAndGlyphs"  stroke="#fff" stroke-width="1.02" stroke-linejoin="round">2,077,161</text>
<text x="1625.56" y="867.9" font-size="26.5" fill="#FFC000" font-family="DejaVu Sans Condensed, DejaVu Sans, sans-serif" font-weight="bold" textLength="128.59" lengthAdjust="spacingAndGlyphs"  stroke="#FFC000" stroke-width="0.74" stroke-linejoin="round">(63,8%)</text>
<g transform="translate(1473 885.5) rotate(-45)" fill="#fff">
<rect x="-2.3" y="-17.5" width="4.6" height="35" rx="0.8"/>
<rect x="0" y="-8.6" width="20" height="17.2"/>
<rect x="16.6" y="-19.5" width="6.4" height="39" rx="3.2"/>
<rect x="20" y="-10.2" width="99" height="20.4" rx="1.8"/>
<rect x="117" y="-6.6" width="23.5" height="13.2" rx="4.4"/>
<path d="M138 -1.15 L189 -0.5 L189 0.5 L138 1.15Z"/>
</g>
<path d="M1608.8 760 C1610.4 764.4 1613.9 768.6 1613.9 772.8 A5.1 5.1 0 0 1 1603.7 772.8 C1603.7 768.6 1607.2 764.4 1608.8 760Z" fill="#fff"/>
<text x="220.18" y="1032.1" font-size="24.6" fill="#1A3668" font-family="DejaVu Sans Condensed, DejaVu Sans, sans-serif" font-weight="bold" textLength="262.36" lengthAdjust="spacingAndGlyphs"  stroke="#1A3668" stroke-width="0.69" stroke-linejoin="round">НАС БАРАЛТ/өдрөөр/</text>
<text x="92.14" y="1106.7" font-size="12.1" fill="#fff" font-family="DejaVu Sans Condensed, DejaVu Sans, sans-serif" font-weight="bold" textLength="63.07" lengthAdjust="spacingAndGlyphs"  stroke="#fff" stroke-width="0.34" stroke-linejoin="round">ХҮЙСЭЭР</text>
<text x="91.28" y="1187.7" font-size="12.1" fill="#fff" font-family="DejaVu Sans Condensed, DejaVu Sans, sans-serif" font-weight="bold" textLength="55.13" lengthAdjust="spacingAndGlyphs"  stroke="#fff" stroke-width="0.34" stroke-linejoin="round">НАСААР</text>
<text x="91.28" y="1276.4" font-size="12.1" fill="#fff" font-family="DejaVu Sans Condensed, DejaVu Sans, sans-serif" font-weight="bold" textLength="77.94" lengthAdjust="spacingAndGlyphs"  stroke="#fff" stroke-width="0.34" stroke-linejoin="round">ШАЛТГААН</text>
<g transform="translate(228.8 1096.3)" fill="none" stroke="#fff" stroke-width="1.5" stroke-linejoin="round">
<circle cx="0" cy="0" r="24.9" stroke-width="1.7"/>
<path d="M-19.5 14.8 C-15 12.5 -9 11 -5 9.6 L-5 6.6 C-9 7.6 -14 7.4 -16.4 6.2 C-11 1 -12.4 -6 -9.6 -11 C-7.6 -14.8 -4 -16.6 0 -16.6 C4 -16.6 7.6 -14.8 9.6 -11 C12.4 -6 11 1 16.4 6.2 C14 7.4 9 7.6 5 6.6 L5 9.6 C9 11 15 12.5 19.5 14.8"/>
</g>
<text x="264.22" y="1097.9" font-size="26.6" fill="#FFC000" font-family="DejaVu Sans Condensed, DejaVu Sans, sans-serif" font-weight="bold" textLength="20.32" lengthAdjust="spacingAndGlyphs"  stroke="#FFC000" stroke-width="0.74" stroke-linejoin="round">3</text>
<text x="263.42" y="1115.5" font-size="13.2" fill="#fff" font-family="DejaVu Sans Condensed, DejaVu Sans, sans-serif" font-weight="bold" textLength="64.80" lengthAdjust="spacingAndGlyphs"  stroke="#fff" stroke-width="0.37" stroke-linejoin="round">ЭМЭГТЭЙ</text>
<g transform="translate(450.3 1095.2)" fill="none" stroke="#fff" stroke-width="1.5" stroke-linejoin="round">
<circle cx="0" cy="0" r="25.2" stroke-width="1.7"/>
<path d="M-18.6 16.4 C-16 13.4 -10 11.6 -5.4 9.4 L-5.4 5.2 C-7.6 3.4 -8.4 1 -8.8 -1.4 C-10.4 -2 -10.6 -5.4 -9.2 -6 C-10 -12.6 -6 -16.8 0 -16.8 C6 -16.8 10 -12.6 9.2 -6 C10.6 -5.4 10.4 -2 8.8 -1.4 C8.4 1 7.6 3.4 5.4 5.2 L5.4 9.4 C10 11.6 16 13.4 18.6 16.4"/>
</g>
<text x="487.61" y="1099" font-size="26.6" fill="#FFC000" font-family="DejaVu Sans Condensed, DejaVu Sans, sans-serif" font-weight="bold" textLength="18.99" lengthAdjust="spacingAndGlyphs"  stroke="#FFC000" stroke-width="0.74" stroke-linejoin="round">1</text>
<text x="487.62" y="1115.5" font-size="13.2" fill="#fff" font-family="DejaVu Sans Condensed, DejaVu Sans, sans-serif" font-weight="bold" textLength="61.71" lengthAdjust="spacingAndGlyphs"  stroke="#fff" stroke-width="0.37" stroke-linejoin="round">ЭРЭГТЭЙ</text>
<circle cx="229" cy="1170.9" r="25.4" fill="none" stroke="#fff" stroke-width="1.3"/>
<text x="229.60" y="1181.3" font-size="24.2" fill="#FFC000" font-family="DejaVu Sans Condensed, DejaVu Sans, sans-serif" font-weight="bold" text-anchor="middle"  stroke="#FFC000" stroke-width="0.68" stroke-linejoin="round">0</text>
<circle cx="315.2" cy="1170.9" r="25.4" fill="none" stroke="#fff" stroke-width="1.3"/>
<text x="315.80" y="1181.3" font-size="24.2" fill="#FFC000" font-family="DejaVu Sans Condensed, DejaVu Sans, sans-serif" font-weight="bold" text-anchor="middle"  stroke="#FFC000" stroke-width="0.68" stroke-linejoin="round">0</text>
<circle cx="401.6" cy="1170.9" r="25.4" fill="none" stroke="#fff" stroke-width="1.3"/>
<text x="402.20" y="1181.3" font-size="24.2" fill="#FFC000" font-family="DejaVu Sans Condensed, DejaVu Sans, sans-serif" font-weight="bold" text-anchor="middle"  stroke="#FFC000" stroke-width="0.68" stroke-linejoin="round">2</text>
<circle cx="485.5" cy="1170.9" r="25.4" fill="none" stroke="#fff" stroke-width="1.3"/>
<text x="486.10" y="1181.3" font-size="24.2" fill="#FFC000" font-family="DejaVu Sans Condensed, DejaVu Sans, sans-serif" font-weight="bold" text-anchor="middle"  stroke="#FFC000" stroke-width="0.68" stroke-linejoin="round">1</text>
<circle cx="570.8" cy="1170.9" r="25.4" fill="none" stroke="#fff" stroke-width="1.3"/>
<text x="571.40" y="1181.3" font-size="24.2" fill="#FFC000" font-family="DejaVu Sans Condensed, DejaVu Sans, sans-serif" font-weight="bold" text-anchor="middle"  stroke="#FFC000" stroke-width="0.68" stroke-linejoin="round">1</text>
<text x="193.81" y="1217.6" font-size="15" fill="#fff" font-family="DejaVu Sans Condensed, DejaVu Sans, sans-serif" font-weight="bold" textLength="70.96" lengthAdjust="spacingAndGlyphs"  stroke="#fff" stroke-width="0.42" stroke-linejoin="round">0-20 нас</text>
<text x="291.13" y="1217.6" font-size="15" fill="#fff" font-family="DejaVu Sans Condensed, DejaVu Sans, sans-serif" font-weight="bold" textLength="47.97" lengthAdjust="spacingAndGlyphs"  stroke="#fff" stroke-width="0.42" stroke-linejoin="round">21-40</text>
<text x="300.66" y="1236.2" font-size="15" fill="#fff" font-family="DejaVu Sans Condensed, DejaVu Sans, sans-serif" font-weight="bold" textLength="29.21" lengthAdjust="spacingAndGlyphs"  stroke="#fff" stroke-width="0.42" stroke-linejoin="round">нас</text>
<text x="377.24" y="1217.6" font-size="15" fill="#fff" font-family="DejaVu Sans Condensed, DejaVu Sans, sans-serif" font-weight="bold" textLength="48.06" lengthAdjust="spacingAndGlyphs"  stroke="#fff" stroke-width="0.42" stroke-linejoin="round">41-60</text>
<text x="386.86" y="1236.2" font-size="15" fill="#fff" font-family="DejaVu Sans Condensed, DejaVu Sans, sans-serif" font-weight="bold" textLength="29.21" lengthAdjust="spacingAndGlyphs"  stroke="#fff" stroke-width="0.42" stroke-linejoin="round">нас</text>
<text x="461.08" y="1217.6" font-size="15" fill="#fff" font-family="DejaVu Sans Condensed, DejaVu Sans, sans-serif" font-weight="bold" textLength="48.02" lengthAdjust="spacingAndGlyphs"  stroke="#fff" stroke-width="0.42" stroke-linejoin="round">61-80</text>
<text x="470.66" y="1236.2" font-size="15" fill="#fff" font-family="DejaVu Sans Condensed, DejaVu Sans, sans-serif" font-weight="bold" textLength="29.21" lengthAdjust="spacingAndGlyphs"  stroke="#fff" stroke-width="0.42" stroke-linejoin="round">нас</text>
<text x="551.86" y="1217.6" font-size="15" fill="#fff" font-family="DejaVu Sans Condensed, DejaVu Sans, sans-serif" font-weight="bold" textLength="37.46" lengthAdjust="spacingAndGlyphs"  stroke="#fff" stroke-width="0.42" stroke-linejoin="round">80-с</text>
<text x="549.22" y="1236.2" font-size="15" fill="#fff" font-family="DejaVu Sans Condensed, DejaVu Sans, sans-serif" font-weight="bold" textLength="43.14" lengthAdjust="spacingAndGlyphs"  stroke="#fff" stroke-width="0.42" stroke-linejoin="round">дээш</text>
<g transform="translate(213 1248.8)" >
<path d="M22.4 41.4 C16 36 6 29 2.4 21.4 C-1.6 12.6 1.6 2.6 10 1 C15.4 0 20 2.8 22.4 7 C24.8 2.8 29.4 0 34.8 1 C43.2 2.6 46.4 12.6 42.4 21.4 C38.8 29 28.8 36 22.4 41.4Z" fill="#fff"/>
<path d="M2.6 20.6 L12 20.6 L15 12.4 L19.8 30.4 L25.2 10.6 L28.6 20.6 L32 17.6 L42.4 17.6" fill="none" stroke="#224A80" stroke-width="2.3" stroke-linejoin="round"/>
</g>
<text x="265.07" y="1284.5" font-size="21.8" fill="#FFC000" font-family="DejaVu Sans Condensed, DejaVu Sans, sans-serif" font-weight="bold" textLength="16.19" lengthAdjust="spacingAndGlyphs"  stroke="#FFC000" stroke-width="0.61" stroke-linejoin="round">4</text>
<text x="206.04" y="1310.9" font-size="14" fill="#fff" font-family="DejaVu Sans Condensed, DejaVu Sans, sans-serif" font-weight="bold" textLength="159.28" lengthAdjust="spacingAndGlyphs"  stroke="#fff" stroke-width="0.39" stroke-linejoin="round">АРХАГ, ХУУЧ ӨВЧТЭЙ +</text>
<text x="205.01" y="1326.7" font-size="14" fill="#fff" font-family="DejaVu Sans Condensed, DejaVu Sans, sans-serif" font-weight="bold" textLength="134.47" lengthAdjust="spacingAndGlyphs"  stroke="#fff" stroke-width="0.39" stroke-linejoin="round">КОВИД ХАВСАРСАН</text>
<g transform="translate(454.5 1269.7)" fill="#fff">
<path transform="rotate(-84)" d="M11 -2.7 L21 -4.7 Q23.8 -4.8 23.8 -2.2 L23.8 2.2 Q23.8 4.8 21 4.7 L11 2.7Z"/>
<path transform="rotate(-39)" d="M11 -2.7 L21 -4.7 Q23.8 -4.8 23.8 -2.2 L23.8 2.2 Q23.8 4.8 21 4.7 L11 2.7Z"/>
<path transform="rotate(6)" d="M11 -2.7 L21 -4.7 Q23.8 -4.8 23.8 -2.2 L23.8 2.2 Q23.8 4.8 21 4.7 L11 2.7Z"/>
<path transform="rotate(51)" d="M11 -2.7 L21 -4.7 Q23.8 -4.8 23.8 -2.2 L23.8 2.2 Q23.8 4.8 21 4.7 L11 2.7Z"/>
<path transform="rotate(96)" d="M11 -2.7 L21 -4.7 Q23.8 -4.8 23.8 -2.2 L23.8 2.2 Q23.8 4.8 21 4.7 L11 2.7Z"/>
<path transform="rotate(141)" d="M11 -2.7 L21 -4.7 Q23.8 -4.8 23.8 -2.2 L23.8 2.2 Q23.8 4.8 21 4.7 L11 2.7Z"/>
<path transform="rotate(186)" d="M11 -2.7 L21 -4.7 Q23.8 -4.8 23.8 -2.2 L23.8 2.2 Q23.8 4.8 21 4.7 L11 2.7Z"/>
<path transform="rotate(231)" d="M11 -2.7 L21 -4.7 Q23.8 -4.8 23.8 -2.2 L23.8 2.2 Q23.8 4.8 21 4.7 L11 2.7Z"/>
<circle cx="0" cy="0" r="14.2"/>
<circle cx="-3.2" cy="-3.8" r="3.4" fill="#224A80"/><circle cx="4.3" cy="3.6" r="1.8" fill="#224A80"/>
</g>
<text x="484.99" y="1284.5" font-size="21.8" fill="#FFC000" font-family="DejaVu Sans Condensed, DejaVu Sans, sans-serif" font-weight="bold" textLength="14.81" lengthAdjust="spacingAndGlyphs"  stroke="#FFC000" stroke-width="0.61" stroke-linejoin="round">0</text>
<text x="424.32" y="1310.9" font-size="14" fill="#fff" font-family="DejaVu Sans Condensed, DejaVu Sans, sans-serif" font-weight="bold" textLength="137.64" lengthAdjust="spacingAndGlyphs"  stroke="#fff" stroke-width="0.39" stroke-linejoin="round">КОВИД ШАЛТГААНТ</text>
<text x="719.38" y="1029.6" font-size="24.6" fill="#1A3668" font-family="DejaVu Sans Condensed, DejaVu Sans, sans-serif" font-weight="bold" textLength="456.66" lengthAdjust="spacingAndGlyphs"  stroke="#1A3668" stroke-width="0.69" stroke-linejoin="round">НАС БАРАЛТЫН ШАЛТГААН /7 хоног/</text>
<circle cx="766.2" cy="1170.4" r="76.1" fill="none" stroke="#FFC000" stroke-width="21.60000000000001"/>
<path d="M693.05 1149.42 A76.1 76.1 0 0 1 766.2 1094.3000000000002" fill="none" stroke="#F2F2F2" stroke-width="21.60000000000001"/>
<text x="730.95" y="1157.6" font-size="25.1" fill="#fff" font-family="DejaVu Sans Condensed, DejaVu Sans, sans-serif" font-weight="bold" textLength="62.69" lengthAdjust="spacingAndGlyphs"  stroke="#fff" stroke-width="0.70" stroke-linejoin="round">23.2</text>
<text x="792.69" y="1157.6" font-size="11.9" fill="#fff" font-family="DejaVu Sans Condensed, DejaVu Sans, sans-serif" font-weight="bold" textLength="15.01" lengthAdjust="spacingAndGlyphs"  stroke="#fff" stroke-width="0.33" stroke-linejoin="round">%</text>
<text x="717.04" y="1199.2" font-size="34.3" fill="#FFC000" font-family="DejaVu Sans Condensed, DejaVu Sans, sans-serif" font-weight="bold" textLength="82.95" lengthAdjust="spacingAndGlyphs"  stroke="#FFC000" stroke-width="0.96" stroke-linejoin="round">76.7</text>
<text x="799.92" y="1199.2" font-size="19" fill="#FFC000" font-family="DejaVu Sans Condensed, DejaVu Sans, sans-serif" font-weight="bold" textLength="23.33" lengthAdjust="spacingAndGlyphs"  stroke="#FFC000" stroke-width="0.53" stroke-linejoin="round">%</text>
<rect x="679.4" y="1256.8" width="17.6" height="17" fill="#FFC000" />
<text x="711.54" y="1271.8" font-size="15" fill="#FFC000" font-family="DejaVu Sans Condensed, DejaVu Sans, sans-serif" font-weight="bold" textLength="160.82" lengthAdjust="spacingAndGlyphs"  stroke="#FFC000" stroke-width="0.42" stroke-linejoin="round">Архаг хууч + Ковид</text>
<text x="711.40" y="1291" font-size="15" fill="#FFC000" font-family="DejaVu Sans Condensed, DejaVu Sans, sans-serif" font-weight="bold" textLength="82.96" lengthAdjust="spacingAndGlyphs"  stroke="#FFC000" stroke-width="0.42" stroke-linejoin="round">хавсарсан</text>
<rect x="680" y="1306.5" width="18" height="18" fill="#fff" />
<text x="710.33" y="1321.8" font-size="15" fill="#fff" font-family="DejaVu Sans Condensed, DejaVu Sans, sans-serif" font-weight="bold" textLength="142.11" lengthAdjust="spacingAndGlyphs"  stroke="#fff" stroke-width="0.42" stroke-linejoin="round">Ковид шалтгаант</text>
<path d="M864.4 1177.8 H896.4 M896.4 1075.4 V1310.2 M896.4 1075.4 H927.8 M896.4 1115 H927.8 M896.4 1154.4 H927.8 M896.4 1192.8 H927.8 M896.4 1232.2 H927.8 M896.4 1271.2 H927.8 M896.4 1310.2 H927.8" fill="none" stroke="#FFC000" stroke-width="1.3"/>
<text x="989.89" y="1084" font-size="19.5" fill="#FFC000" font-family="DejaVu Sans Condensed, DejaVu Sans, sans-serif" font-weight="bold" textLength="47.08" lengthAdjust="spacingAndGlyphs"  stroke="#FFC000" stroke-width="0.55" stroke-linejoin="round">69.2</text>
<text x="1036.31" y="1084" font-size="9.6" fill="#FFC000" font-family="DejaVu Sans Condensed, DejaVu Sans, sans-serif" font-weight="bold" textLength="13.37" lengthAdjust="spacingAndGlyphs"  stroke="#FFC000" stroke-width="0.27" stroke-linejoin="round">%</text>
<text x="1058.87" y="1084" font-size="14.5" fill="#fff" font-family="DejaVu Sans Condensed, DejaVu Sans, sans-serif" font-weight="bold" textLength="171.31" lengthAdjust="spacingAndGlyphs"  stroke="#fff" stroke-width="0.41" stroke-linejoin="round">Зүрх, судасны өвчин</text>
<text x="989.57" y="1121.8" font-size="19.5" fill="#FFC000" font-family="DejaVu Sans Condensed, DejaVu Sans, sans-serif" font-weight="bold" textLength="47.06" lengthAdjust="spacingAndGlyphs"  stroke="#FFC000" stroke-width="0.55" stroke-linejoin="round">22.1</text>
<text x="1036.31" y="1121.8" font-size="9.6" fill="#FFC000" font-family="DejaVu Sans Condensed, DejaVu Sans, sans-serif" font-weight="bold" textLength="13.37" lengthAdjust="spacingAndGlyphs"  stroke="#FFC000" stroke-width="0.27" stroke-linejoin="round">%</text>
<text x="1058.65" y="1121.8" font-size="14.5" fill="#fff" font-family="DejaVu Sans Condensed, DejaVu Sans, sans-serif" font-weight="bold" textLength="136.36" lengthAdjust="spacingAndGlyphs"  stroke="#fff" stroke-width="0.41" stroke-linejoin="round">Чихрийн шижин</text>
<text x="988.91" y="1159.2" font-size="19.5" fill="#FFC000" font-family="DejaVu Sans Condensed, DejaVu Sans, sans-serif" font-weight="bold" textLength="47.60" lengthAdjust="spacingAndGlyphs"  stroke="#FFC000" stroke-width="0.55" stroke-linejoin="round">12.8</text>
<text x="1036.31" y="1159.2" font-size="9.6" fill="#FFC000" font-family="DejaVu Sans Condensed, DejaVu Sans, sans-serif" font-weight="bold" textLength="13.37" lengthAdjust="spacingAndGlyphs"  stroke="#FFC000" stroke-width="0.27" stroke-linejoin="round">%</text>
<text x="1058.48" y="1159.2" font-size="14.5" fill="#fff" font-family="DejaVu Sans Condensed, DejaVu Sans, sans-serif" font-weight="bold" textLength="120.26" lengthAdjust="spacingAndGlyphs"  stroke="#fff" stroke-width="0.41" stroke-linejoin="round">Бөөрний эмгэг</text>
<text x="988.90" y="1197.6" font-size="19.5" fill="#FFC000" font-family="DejaVu Sans Condensed, DejaVu Sans, sans-serif" font-weight="bold" textLength="47.75" lengthAdjust="spacingAndGlyphs"  stroke="#FFC000" stroke-width="0.55" stroke-linejoin="round">11.1</text>
<text x="1036.31" y="1197.6" font-size="9.6" fill="#FFC000" font-family="DejaVu Sans Condensed, DejaVu Sans, sans-serif" font-weight="bold" textLength="13.37" lengthAdjust="spacingAndGlyphs"  stroke="#FFC000" stroke-width="0.27" stroke-linejoin="round">%</text>
<text x="1058.88" y="1197.6" font-size="14.5" fill="#fff" font-family="DejaVu Sans Condensed, DejaVu Sans, sans-serif" font-weight="bold" textLength="117.06" lengthAdjust="spacingAndGlyphs"  stroke="#fff" stroke-width="0.41" stroke-linejoin="round">Элэгний эмгэг</text>
<text x="990.10" y="1234.4" font-size="19.5" fill="#FFC000" font-family="DejaVu Sans Condensed, DejaVu Sans, sans-serif" font-weight="bold" textLength="33.43" lengthAdjust="spacingAndGlyphs"  stroke="#FFC000" stroke-width="0.55" stroke-linejoin="round">9.6</text>
<text x="1023.54" y="1234.4" font-size="9.6" fill="#FFC000" font-family="DejaVu Sans Condensed, DejaVu Sans, sans-serif" font-weight="bold" textLength="12.30" lengthAdjust="spacingAndGlyphs"  stroke="#FFC000" stroke-width="0.27" stroke-linejoin="round">%</text>
<text x="1058.50" y="1234.4" font-size="14.5" fill="#fff" font-family="DejaVu Sans Condensed, DejaVu Sans, sans-serif" font-weight="bold" textLength="141.44" lengthAdjust="spacingAndGlyphs"  stroke="#fff" stroke-width="0.41" stroke-linejoin="round">Мэдрэлийн эмгэг</text>
<text x="989.80" y="1271.8" font-size="19.5" fill="#FFC000" font-family="DejaVu Sans Condensed, DejaVu Sans, sans-serif" font-weight="bold" textLength="33.74" lengthAdjust="spacingAndGlyphs"  stroke="#FFC000" stroke-width="0.55" stroke-linejoin="round">7.6</text>
<text x="1023.54" y="1271.8" font-size="9.6" fill="#FFC000" font-family="DejaVu Sans Condensed, DejaVu Sans, sans-serif" font-weight="bold" textLength="12.30" lengthAdjust="spacingAndGlyphs"  stroke="#FFC000" stroke-width="0.27" stroke-linejoin="round">%</text>
<text x="1059.54" y="1271.8" font-size="14.5" fill="#fff" font-family="DejaVu Sans Condensed, DejaVu Sans, sans-serif" font-weight="bold" textLength="58.67" lengthAdjust="spacingAndGlyphs"  stroke="#fff" stroke-width="0.41" stroke-linejoin="round">Хавдар</text>
<text x="990.23" y="1309.6" font-size="19.5" fill="#FFC000" font-family="DejaVu Sans Condensed, DejaVu Sans, sans-serif" font-weight="bold" textLength="33.50" lengthAdjust="spacingAndGlyphs"  stroke="#FFC000" stroke-width="0.55" stroke-linejoin="round">4.9</text>
<text x="1023.54" y="1309.6" font-size="9.6" fill="#FFC000" font-family="DejaVu Sans Condensed, DejaVu Sans, sans-serif" font-weight="bold" textLength="12.30" lengthAdjust="spacingAndGlyphs"  stroke="#FFC000" stroke-width="0.27" stroke-linejoin="round">%</text>
<text x="1059.54" y="1309.6" font-size="14.5" fill="#fff" font-family="DejaVu Sans Condensed, DejaVu Sans, sans-serif" font-weight="bold" textLength="113.51" lengthAdjust="spacingAndGlyphs"  stroke="#fff" stroke-width="0.41" stroke-linejoin="round">Хэт таргалалт</text>
<g transform="translate(938.4 1060.3)" fill="#FFC000">
<path d="M3 7.5 C0 11 -0.4 18 2.4 23.6 C4.6 28 8.4 31 12 31 C15.6 30.6 19.4 27.4 21.6 22.6 C24 17 24.4 11 21.6 7 L21.4 2.6 Q20.2 0.6 19 2.6 L18.8 5.4 L17.6 5 L17.4 1 Q16 -1 14.6 1 L14.6 4.6 L13.2 4.6 L13 1.8 Q11.8 0 10.4 1.8 L10.6 5.4 L9.2 5.8 L8.6 3 Q7 1.6 6 3.6 L6.6 6.6 C5.4 6.4 4 6.6 3 7.5Z"/>
<path d="M10.6 13.4 L19.6 24.4 M13.6 14 L19.4 12.6 L21.4 16 L20.4 21" fill="none" stroke="#224A80" stroke-width="1.1"/>
</g>
<path d="M941.2 1107.4 C942.6 1105 946.6 1104.8 949.8 1106.8 C955 1110 962.4 1115.6 968 1120.6 M941.2 1107.4 C940.6 1110 943 1113.4 946.4 1117 C951 1122 956 1127.4 961.6 1131.2 M946 1110 L948.4 1111" fill="none" stroke="#FFC000" stroke-width="1" stroke-linecap="round"/>
<g transform="translate(945.2 1139)" fill="#FFC000">
<path d="M6.4 0.6 C10 -0.6 11.4 3.4 9.8 5.8 C8.6 7.6 9.6 9.4 9.4 11.4 C9 14.4 5.8 15.8 3.4 14.2 C0.4 12.2 -0.6 7.4 1.2 4 C2.4 1.8 4.4 0.9 6.4 0.6Z"/>
<path d="M19.8 0.6 C16.2 -0.6 14.8 3.4 16.4 5.8 C17.6 7.6 16.6 9.4 16.8 11.4 C17.2 14.4 20.4 15.8 22.8 14.2 C25.8 12.2 26.8 7.4 25 4 C23.8 1.8 21.8 0.9 19.8 0.6Z"/>
<path d="M9.4 8.4 C11.6 10.4 12.6 13.4 12.8 17.6 M16.8 8.4 C14.6 10.4 13.6 13.4 13.4 17.6" fill="none" stroke="#FFC000" stroke-width="1.4"/>
<rect x="10.6" y="17.4" width="5" height="5.4" rx="1.6"/><rect x="12.2" y="22" width="1.8" height="6.4"/>
</g>
<g transform="translate(943.6 1179.5)" fill="#FFC000">
<path d="M1 10 C1.6 4.4 6.6 0.6 13 0.4 C19 0.2 25 1 29.4 2.4 C32.4 3.4 33.4 6.4 32.6 9.6 C28.6 9.2 24.4 10 21.4 12.4 C17 15.8 13.4 20 8.6 23.2 C5.4 25.2 3.4 24 2.6 21 C1.6 17.4 0.6 13.6 1 10Z"/>
<path d="M22 1.4 C23.4 4.4 23.4 8 21.8 12" fill="none" stroke="#224A80" stroke-width="0.9"/>
</g>
<g transform="translate(941.9 1217)" fill="none" stroke="#FFC000" stroke-width="1.3" stroke-linecap="round" stroke-linejoin="round">
<path d="M11 20.6 C5.6 21.4 0.8 18 0.8 13 C0.8 9.4 3 7 5.6 6 C6.6 2.6 10.6 0.6 14.6 1 C18.6 -0.2 24 0.8 27.4 4 C31.4 7 33 12 31.4 16.4 C30.6 19.6 28 21.4 25 21.6 C24 23.4 22 24 20 23.4 C18.6 25 15.6 24.6 14.6 22.6 C13.2 22.6 11.8 21.8 11 20.6Z"/>
<path d="M5.6 6 C8 6.4 9.6 8 10 10 M14.6 1 C13.6 3.6 15 6 17.6 6.6 M10 14 C12.4 12.4 15.6 13 16.6 15.6 C17.4 17.6 16.4 19.6 14.6 20.2 M22 6 C19.6 8 20 11.4 22.6 12.6 M22.6 12.6 C25.6 12 27.6 14 27 16.6 M27.4 4 C26 5.6 26.4 8 28.4 9 M4 12 C5.6 11 7.6 11.6 8.4 13.2 M20 17 C20.6 19 22.4 19.8 24 19.4"/>
<path d="M17 23.8 C17.6 27 19.6 29.4 22.6 30.6 C24.6 31.4 26.2 29.6 25 27.8 C23.6 26.2 22.6 25 22.4 23.4"/>
</g>
<g transform="translate(0 0)" fill="#FFC000" stroke="#FFC000" stroke-width="1.3">
<path d="M958 1267.5 L958 1257.2 M958 1267.5 L949.1 1275.8 M958 1267.5 L960 1275.8 M958 1267.5 L970.8 1273.7 M958 1267.5 L950.6 1265.4 M958 1267.5 L965.4 1264.6" fill="none"/>
<circle cx="958" cy="1267.5" r="3.3" stroke="none"/>
<circle cx="958" cy="1257.2" r="3.1" stroke="none"/>
<circle cx="949.1" cy="1275.8" r="3.3" stroke="none"/>
<circle cx="960" cy="1275.8" r="3.2" stroke="none"/>
<circle cx="970.8" cy="1273.7" r="3.1" stroke="none"/>
<circle cx="950.6" cy="1265.4" r="1.3" stroke="none"/>
<circle cx="965.4" cy="1264.6" r="1.3" stroke="none"/>
</g>
<g transform="translate(958.3 1288.1)" fill="none" stroke="#FFC000" stroke-width="1.2" stroke-linejoin="round">
<circle cx="0" cy="3.4" r="3.3"/>
<path d="M-3 7.4 C-7.4 8 -9.6 11 -10.4 15 C-11.2 18.6 -11.8 21.6 -11 23 C-10.2 24.2 -8.8 23.6 -8.4 22.4 L-7.2 17.4 C-8.2 21.4 -7.8 25.4 -6.4 28.6 L-5.6 36.4 C-5.4 38.4 -2.4 38.4 -2 36.4 L-0.6 28 L0.6 28 L2 36.4 C2.4 38.4 5.4 38.4 5.6 36.4 L6.4 28.6 C7.8 25.4 8.2 21.4 7.2 17.4 L8.4 22.4 C8.8 23.6 10.2 24.2 11 23 C11.8 21.6 11.2 18.6 10.4 15 C9.6 11 7.4 8 3 7.4"/>
</g>
<text x="1336.10" y="1047.5" font-size="36.7" fill="#FDB913" font-family="DejaVu Sans Condensed, DejaVu Sans, sans-serif" font-weight="bold" textLength="398.26" lengthAdjust="spacingAndGlyphs"  stroke="#FDB913" stroke-width="1.03" stroke-linejoin="round">Иргэн та халдвараас</text>
<text x="1283.21" y="1090.8" font-size="36.7" fill="#FDB913" font-family="DejaVu Sans Condensed, DejaVu Sans, sans-serif" font-weight="bold" textLength="504.00" lengthAdjust="spacingAndGlyphs"  stroke="#FDB913" stroke-width="1.03" stroke-linejoin="round">сэргийлэх дэглэмийг чанд</text>
<text x="1304.78" y="1134.3" font-size="36.7" fill="#FDB913" font-family="DejaVu Sans Condensed, DejaVu Sans, sans-serif" font-weight="bold" textLength="461.63" lengthAdjust="spacingAndGlyphs"  stroke="#FDB913" stroke-width="1.03" stroke-linejoin="round">мөрдөж, хариуцлагатай</text>
<text x="1328.62" y="1176.9" font-size="36.7" fill="#FDB913" font-family="DejaVu Sans Condensed, DejaVu Sans, sans-serif" font-weight="bold" textLength="410.49" lengthAdjust="spacingAndGlyphs"  stroke="#FDB913" stroke-width="1.03" stroke-linejoin="round">байвал Коронавируст</text>
<text x="1294.23" y="1220.6" font-size="36.7" fill="#FDB913" font-family="DejaVu Sans Condensed, DejaVu Sans, sans-serif" font-weight="bold" textLength="482.43" lengthAdjust="spacingAndGlyphs"  stroke="#FDB913" stroke-width="1.03" stroke-linejoin="round">халдвар (КОВИД-19)-аар</text>
<text x="1385.39" y="1263.8" font-size="36.7" fill="#FDB913" font-family="DejaVu Sans Condensed, DejaVu Sans, sans-serif" font-weight="bold" textLength="298.88" lengthAdjust="spacingAndGlyphs"  stroke="#FDB913" stroke-width="1.03" stroke-linejoin="round">өвчлөхгүй байх</text>
<text x="1422.02" y="1307.4" font-size="36.7" fill="#FDB913" font-family="DejaVu Sans Condensed, DejaVu Sans, sans-serif" font-weight="bold" textLength="227.18" lengthAdjust="spacingAndGlyphs"  stroke="#FDB913" stroke-width="1.03" stroke-linejoin="round">боломжтой.</text>
</svg>
</body></html>
